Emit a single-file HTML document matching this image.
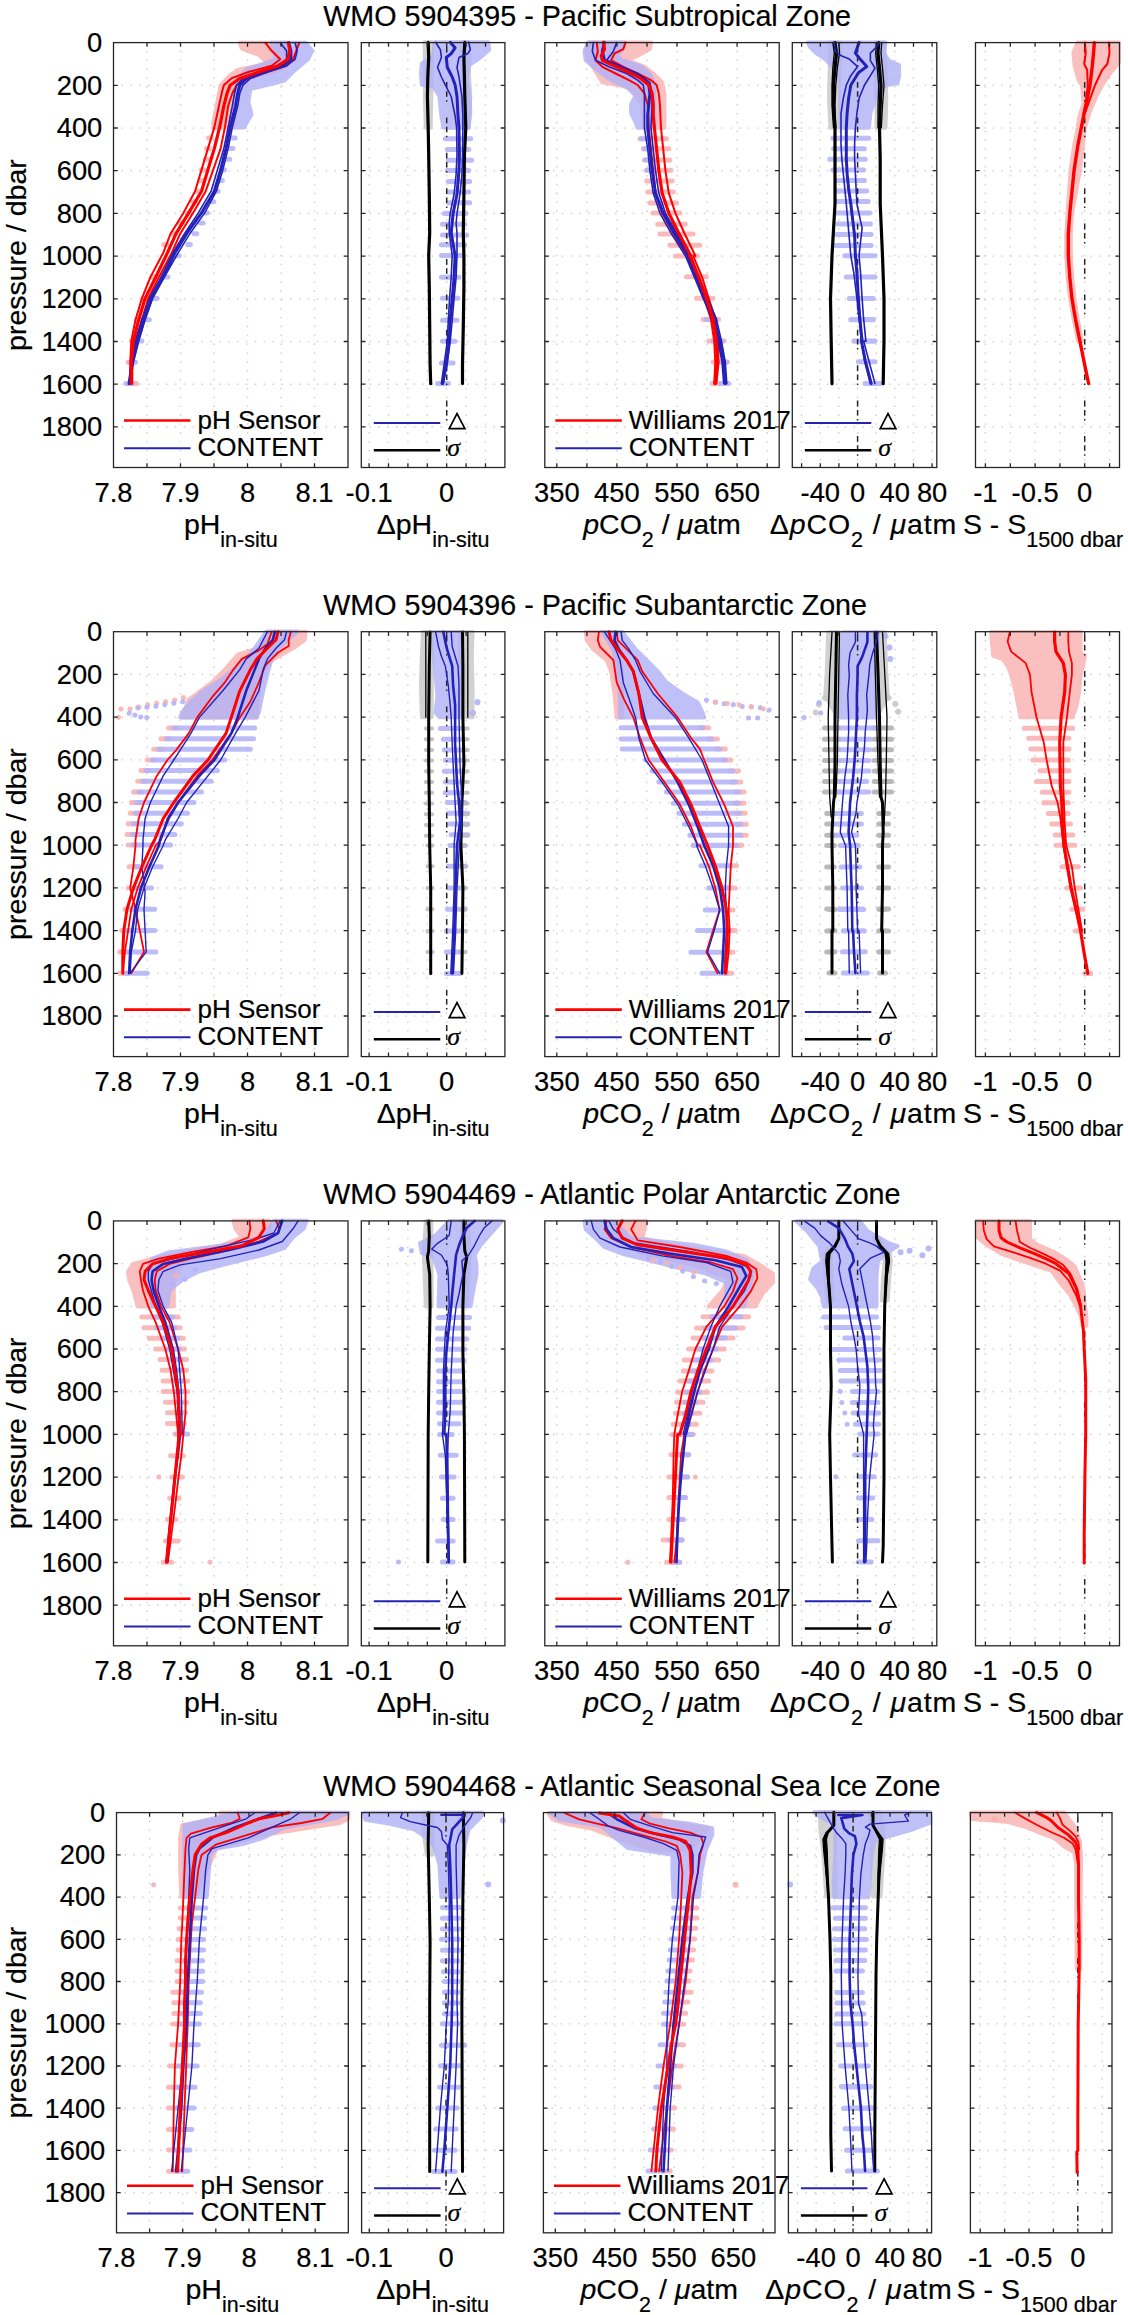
<!DOCTYPE html>
<html><head><meta charset="utf-8"><style>
html,body{margin:0;padding:0;background:#fff;}
svg{display:block;}
text{font-family:"Liberation Sans", sans-serif;fill:#000;stroke:#000;stroke-width:0.2px;}
</style></head><body>
<svg width="1128" height="2315" viewBox="0 0 1128 2315">
<rect width="1128" height="2315" fill="#fff"/>
<text x="323.3" y="25.9" font-size="28.7">WMO 5904395 - Pacific Subtropical Zone</text>
<path d="M147 42.6V467.5M180.5 42.6V467.5M214 42.6V467.5M247.5 42.6V467.5M281 42.6V467.5M314.5 42.6V467.5M113.5 85.3H348M113.5 128H348M113.5 170.7H348M113.5 213.4H348M113.5 256.1H348M113.5 298.8H348M113.5 341.5H348M113.5 384.2H348M113.5 426.9H348" stroke="#d2d2d2" stroke-width="1.7" stroke-linecap="round" stroke-dasharray="0 8.87" fill="none"/>
<polygon points="239.8,42.7 241.9,48.6 258.9,55.0 268.5,63.5 237.7,69.9 229.1,76.3 220.6,85.2 217.4,101.8 213.2,123.1 214.3,127.4 233.4,127.4 235.5,93.3 241.9,82.7 258.9,75.2 280.2,69.9 286.6,59.3 288.7,50.8 286.6,42.7" fill="#fab1b1" stroke="#fab1b1" stroke-width="4" stroke-linejoin="round" opacity="0.82"/>
<path d="M213.8 127.4H216.8M208.5 138.0H211.5M206.4 148.6H209.4M205.3 159.3H208.3M201.1 169.9H204.0M200.0 180.6H203.0M196.8 191.2H199.8M192.6 201.8H195.5M187.2 212.9H190.2M179.8 223.1H182.8M172.3 233.7H175.3M163.8 244.4H166.8M151.5 277.1H156.8M143.0 298.4H148.3M136.6 319.7H141.9M131.3 341.0H136.6M128.1 362.3H133.4M128.1 383.5H136.6" stroke="#fab1b1" stroke-width="5" stroke-linecap="round" fill="none" opacity="0.88"/>
<polygon points="271.7,42.7 276.0,59.3 246.2,69.9 237.7,80.6 235.5,93.3 234.5,127.4 244.0,127.4 251.5,114.6 248.3,101.8 250.4,89.1 276.0,82.7 284.5,80.6 295.1,69.9 307.9,59.3 312.1,50.8 305.7,42.7" fill="#b3b3f7" stroke="#b3b3f7" stroke-width="4" stroke-linejoin="round" opacity="0.82"/>
<path d="M232.3 138.0H235.1M230.2 148.6H233.0M227.0 159.3H229.8M221.7 169.9H224.5M219.6 180.6H222.3M215.3 191.2H218.1M211.1 201.8H213.8M204.7 212.9H207.4M200.4 223.1H203.2M194.0 233.7H196.8M187.7 244.4H190.4M173.8 255.7H179.1M162.1 277.1H167.9M151.5 298.4H157.2M144.0 319.7H149.4M137.7 341.0H141.9M130.2 362.3H135.5M126.0 383.5H132.3" stroke="#b3b3f7" stroke-width="5" stroke-linecap="round" fill="none" opacity="0.88"/>
<polyline points="265.3,42.7 271.7,50.8 280.2,59.3 271.7,65.7 248.3,72.0 231.3,78.4 223.8,85.2 221.7,93.3 214.3,127.4 207.9,148.6 201.5,169.9 195.1,191.2 183.4,212.9 170.6,233.7 163.2,252.9 150.4,277.1 141.9,298.4 135.5,319.7 131.3,341.0 130.2,362.3 130.2,383.5" fill="none" stroke="#ff0000" stroke-width="2" stroke-linejoin="round" stroke-linecap="round"/>
<polyline points="299.4,42.7 296.2,50.8 293.0,59.3 286.6,65.7 267.4,72.0 248.3,78.4 236.6,85.2 232.3,93.3 228.1,106.1 224.9,127.4 220.6,148.6 213.2,169.9 205.7,191.2 193.0,212.9 180.2,233.7 171.7,252.9 158.9,277.1 148.3,298.4 141.9,319.7 135.5,341.0 132.3,362.3 132.3,383.5" fill="none" stroke="#ff0000" stroke-width="2" stroke-linejoin="round" stroke-linecap="round"/>
<polyline points="280.2,42.7 286.6,50.8 286.6,59.3 278.1,65.7 258.9,72.0 243.0,78.4 236.6,85.2 234.5,93.3 232.3,106.1 228.1,127.4 223.8,148.6 217.4,169.9 211.1,191.2 198.3,212.9 184.5,233.7 172.8,252.9 161.1,277.1 149.4,298.4 141.9,319.7 135.5,341.0 131.3,362.3 129.1,383.5" fill="none" stroke="#2222b8" stroke-width="1.6" stroke-linejoin="round" stroke-linecap="round"/>
<polyline points="295.1,42.7 297.2,50.8 295.1,59.3 286.6,65.7 267.4,72.0 250.4,78.4 243.0,85.2 239.8,93.3 237.7,106.1 232.3,127.4 228.1,148.6 222.8,169.9 216.4,191.2 204.7,212.9 189.8,233.7 178.1,252.9 164.3,277.1 152.6,298.4 145.1,319.7 138.7,341.0 133.4,362.3 130.2,383.5" fill="none" stroke="#2222b8" stroke-width="1.6" stroke-linejoin="round" stroke-linecap="round"/>
<polyline points="288.7,42.7 290.9,50.8 290.9,59.3 282.3,65.7 263.2,72.0 246.2,78.4 239.8,85.2 237.7,93.3 235.5,106.1 230.2,127.4 226.0,148.6 220.6,169.9 214.3,191.2 201.5,212.9 186.6,233.7 174.9,252.9 163.2,277.1 151.5,298.4 144.0,319.7 137.7,341.0 132.3,362.3 129.1,383.5" fill="none" stroke="#2222b8" stroke-width="3" stroke-linejoin="round" stroke-linecap="round"/>
<polyline points="288.3,42.7 289.8,50.8 287.7,59.3 278.1,65.7 258.9,72.0 239.8,78.4 230.2,85.2 227.0,93.3 223.8,106.1 219.6,127.4 214.3,148.6 207.9,169.9 201.5,191.2 188.7,212.9 176.0,233.7 167.4,252.9 155.7,277.1 145.1,298.4 138.7,319.7 133.4,341.0 131.3,362.3 131.3,383.5" fill="none" stroke="#ff0000" stroke-width="3.2" stroke-linejoin="round" stroke-linecap="round"/>
<path d="M147 42.6v4.2M147 467.5v-4.2M180.5 42.6v4.2M180.5 467.5v-4.2M214 42.6v4.2M214 467.5v-4.2M247.5 42.6v4.2M247.5 467.5v-4.2M281 42.6v4.2M281 467.5v-4.2M314.5 42.6v4.2M314.5 467.5v-4.2M113.5 85.3h4.2M348 85.3h-4.2M113.5 128h4.2M348 128h-4.2M113.5 170.7h4.2M348 170.7h-4.2M113.5 213.4h4.2M348 213.4h-4.2M113.5 256.1h4.2M348 256.1h-4.2M113.5 298.8h4.2M348 298.8h-4.2M113.5 341.5h4.2M348 341.5h-4.2M113.5 384.2h4.2M348 384.2h-4.2M113.5 426.9h4.2M348 426.9h-4.2" stroke="#262626" stroke-width="1.3" fill="none"/>
<rect x="113.5" y="42.6" width="234.5" height="424.9" stroke="#262626" stroke-width="1.3" fill="none"/>
<text transform="translate(113.5 502.1) scale(0.97 1)" font-size="28.2" text-anchor="middle">7.8</text>
<text transform="translate(180.5 502.1) scale(0.97 1)" font-size="28.2" text-anchor="middle">7.9</text>
<text transform="translate(247.5 502.1) scale(0.97 1)" font-size="28.2" text-anchor="middle">8</text>
<text transform="translate(314.5 502.1) scale(0.97 1)" font-size="28.2" text-anchor="middle">8.1</text>
<path d="M369.1 42.6V467.5M388.5 42.6V467.5M407.9 42.6V467.5M427.3 42.6V467.5M446.7 42.6V467.5M466.1 42.6V467.5M485.5 42.6V467.5M361.3 85.3H504.9M361.3 128H504.9M361.3 170.7H504.9M361.3 213.4H504.9M361.3 256.1H504.9M361.3 298.8H504.9M361.3 341.5H504.9M361.3 384.2H504.9M361.3 426.9H504.9" stroke="#d2d2d2" stroke-width="1.7" stroke-linecap="round" stroke-dasharray="0 8.87" fill="none"/>
<polygon points="424.5,42.3 425.4,77.0 424.8,96.5 425.8,127.7 430.7,127.7 431.3,96.5 431.7,77.0 432.1,42.3" fill="#c8c8c8" stroke="#c8c8c8" stroke-width="4" stroke-linejoin="round" opacity="0.82"/>
<polygon points="461.3,42.3 461.9,77.0 462.5,96.5 462.9,127.7 468.7,127.7 470.3,96.5 469.1,77.0 469.1,42.3" fill="#c8c8c8" stroke="#c8c8c8" stroke-width="4" stroke-linejoin="round" opacity="0.82"/>
<polygon points="434.6,42.3 433.6,55.6 426.8,60.4 421.9,63.4 420.9,73.1 421.9,84.8 433.6,86.8 439.5,96.5 441.4,116.0 443.4,127.7 468.7,127.7 470.3,112.1 469.7,96.5 466.8,77.0 468.7,65.3 480.4,57.5 489.2,49.7 488.2,42.3" fill="#b3b3f7" stroke="#b3b3f7" stroke-width="4" stroke-linejoin="round" opacity="0.82"/>
<path d="M445.3 138.8H470.7M447.3 149.6H468.7M448.3 160.3H471.7M447.3 170.6H468.7M448.3 181.4H469.7M448.3 192.1H468.7M448.3 202.8H469.7M444.3 213.5H465.8M442.4 224.3H464.8M442.4 235.0H466.8M441.4 244.7H464.8M441.4 255.4H460.9M441.4 277.3H459.0M442.4 298.3H458.0M442.4 320.2H457.0M442.4 341.2H455.1M441.4 363.1H453.1M437.5 383.6H448.3" stroke="#b3b3f7" stroke-width="5" stroke-linecap="round" fill="none" opacity="0.88"/>
<path d="M446.7 42.6V467.5" stroke="#262626" stroke-width="1.5" stroke-dasharray="5.8 3.5 5.5 3.5 1.5 15.6" stroke-dashoffset="-4" fill="none"/>
<polyline points="428.2,42.3 428.7,57.5 427.8,77.0 427.4,96.5 428.2,127.7 428.7,155.0 429.3,194.0 429.7,233.0 428.7,255.4 429.3,287.0 429.7,326.0 430.1,365.0 430.7,383.6" fill="none" stroke="#000000" stroke-width="3.2" stroke-linejoin="round" stroke-linecap="round"/>
<polyline points="464.8,42.3 463.9,57.5 464.4,77.0 464.8,96.5 465.8,127.7 464.4,155.0 463.9,194.0 463.3,233.0 463.9,255.4 463.9,287.0 463.3,326.0 462.5,365.0 462.5,383.6" fill="none" stroke="#000000" stroke-width="3.2" stroke-linejoin="round" stroke-linecap="round"/>
<polyline points="435.6,42.3 440.4,49.7 441.4,57.5 437.5,67.3 441.4,77.0 445.3,84.8 451.2,96.5 455.1,116.0 456.6,127.7 457.0,155.0 456.1,174.5 454.1,194.0 450.2,213.5 449.2,223.3 449.2,233.0 452.2,255.4 451.2,277.3 449.6,298.3 448.3,320.2 447.3,341.2 444.3,363.1 441.4,383.6" fill="none" stroke="#2222b8" stroke-width="1.6" stroke-linejoin="round" stroke-linecap="round"/>
<polyline points="468.7,42.3 470.3,49.7 467.8,53.6 459.0,57.5 457.0,67.3 459.0,77.0 461.9,96.5 462.9,116.0 462.9,127.7 462.5,155.0 461.9,174.5 460.0,194.0 457.0,213.5 456.1,223.3 457.0,233.0 457.0,255.4 456.1,277.3 454.1,298.3 452.2,320.2 450.2,341.2 447.3,363.1 443.4,383.6" fill="none" stroke="#2222b8" stroke-width="1.6" stroke-linejoin="round" stroke-linecap="round"/>
<polyline points="450.2,42.3 455.1,47.8 451.2,53.6 446.3,57.5 447.3,67.3 452.2,77.0 455.1,84.8 457.0,96.5 458.0,116.0 459.0,127.7 459.4,155.0 459.0,170.2 457.0,194.0 453.1,213.5 451.2,233.0 455.1,255.4 454.1,277.3 452.2,298.3 450.2,320.2 449.2,341.2 446.3,363.1 442.4,383.6" fill="none" stroke="#2222b8" stroke-width="3" stroke-linejoin="round" stroke-linecap="round"/>
<path d="M369.1 42.6v4.2M369.1 467.5v-4.2M388.5 42.6v4.2M388.5 467.5v-4.2M407.9 42.6v4.2M407.9 467.5v-4.2M427.3 42.6v4.2M427.3 467.5v-4.2M446.7 42.6v4.2M446.7 467.5v-4.2M466.1 42.6v4.2M466.1 467.5v-4.2M485.5 42.6v4.2M485.5 467.5v-4.2M361.3 85.3h4.2M504.9 85.3h-4.2M361.3 128h4.2M504.9 128h-4.2M361.3 170.7h4.2M504.9 170.7h-4.2M361.3 213.4h4.2M504.9 213.4h-4.2M361.3 256.1h4.2M504.9 256.1h-4.2M361.3 298.8h4.2M504.9 298.8h-4.2M361.3 341.5h4.2M504.9 341.5h-4.2M361.3 384.2h4.2M504.9 384.2h-4.2M361.3 426.9h4.2M504.9 426.9h-4.2" stroke="#262626" stroke-width="1.3" fill="none"/>
<rect x="361.3" y="42.6" width="143.6" height="424.9" stroke="#262626" stroke-width="1.3" fill="none"/>
<text transform="translate(369.1 502.1) scale(0.97 1)" font-size="28.2" text-anchor="middle">-0.1</text>
<text transform="translate(446.7 502.1) scale(0.97 1)" font-size="28.2" text-anchor="middle">0</text>
<path d="M556.8 42.6V467.5M586.9 42.6V467.5M616.9 42.6V467.5M647 42.6V467.5M677 42.6V467.5M707.1 42.6V467.5M737.1 42.6V467.5M767.2 42.6V467.5M544.8 85.3H779.2M544.8 128H779.2M544.8 170.7H779.2M544.8 213.4H779.2M544.8 256.1H779.2M544.8 298.8H779.2M544.8 341.5H779.2M544.8 384.2H779.2M544.8 426.9H779.2" stroke="#d2d2d2" stroke-width="1.7" stroke-linecap="round" stroke-dasharray="0 8.87" fill="none"/>
<polygon points="589.0,42.4 585.7,51.3 589.0,60.2 595.6,71.2 602.3,82.3 622.2,85.7 631.1,89.0 642.2,104.5 644.4,127.8 664.3,127.8 664.3,104.5 664.3,93.4 662.1,82.3 653.2,73.5 644.4,66.8 626.7,60.2 637.7,55.7 649.9,49.1 651.0,42.4" fill="#fab1b1" stroke="#fab1b1" stroke-width="4" stroke-linejoin="round" opacity="0.82"/>
<path d="M640.0 138.8H666.5M643.3 148.8H668.8M644.4 159.9H669.9M646.6 170.3H671.0M646.6 181.0H672.1M647.7 192.0H673.2M649.9 203.1H676.5M653.2 213.1H679.8M657.7 224.2H685.4M659.9 234.1H693.1M669.9 245.2H699.8M675.4 255.9H697.6M686.5 276.8H706.4M696.5 298.3H713.1M703.1 319.4H718.6M708.7 341.1H724.2M713.1 362.1H727.5M712.0 383.6H718.6" stroke="#fab1b1" stroke-width="5" stroke-linecap="round" fill="none" opacity="0.88"/>
<polygon points="587.9,42.4 584.5,51.3 585.7,60.2 593.4,66.8 611.1,80.1 626.7,86.8 635.5,95.6 631.1,104.5 631.1,113.4 635.5,122.2 637.7,127.8 654.4,127.8 654.4,95.6 653.2,82.3 651.0,75.7 642.2,66.8 622.2,60.2 615.6,55.7 621.1,51.3 623.3,42.4" fill="#b3b3f7" stroke="#b3b3f7" stroke-width="4" stroke-linejoin="round" opacity="0.82"/>
<path d="M641.1 138.8H648.8M644.4 148.8H651.0M645.5 159.9H652.1M646.6 170.3H653.2M706.4 319.4H715.3M713.1 341.1H722.0M718.6 362.1H726.4M720.8 383.6H728.6" stroke="#b3b3f7" stroke-width="5" stroke-linecap="round" fill="none" opacity="0.88"/>
<polyline points="596.7,42.4 597.8,51.3 595.6,60.2 602.3,66.8 615.6,73.5 628.9,80.1 637.7,85.0 644.4,93.4 647.7,104.5 648.8,127.8 651.0,148.8 653.2,170.3 655.5,193.1 662.1,213.1 673.2,233.0 686.5,255.9 686.5,255.8 695.4,276.8 704.2,298.3 710.9,318.9 714.2,341.1 715.3,362.1 714.2,383.6" fill="none" stroke="#ff0000" stroke-width="2" stroke-linejoin="round" stroke-linecap="round"/>
<polyline points="625.5,42.4 623.3,49.1 614.5,53.5 611.1,60.2 623.3,66.8 637.7,73.5 651.0,80.1 656.6,85.0 658.8,93.4 659.9,104.5 661.0,127.8 663.2,148.8 665.4,170.3 668.8,193.1 675.4,213.1 684.3,233.0 695.4,255.9 693.1,255.8 702.0,276.8 708.7,298.3 715.3,318.9 718.0,341.1 718.6,362.1 716.4,383.6" fill="none" stroke="#ff0000" stroke-width="2" stroke-linejoin="round" stroke-linecap="round"/>
<polyline points="593.4,42.4 592.3,51.3 595.6,60.2 608.9,66.8 626.7,73.5 637.7,80.1 643.3,85.0 644.4,93.4 644.4,104.5 644.4,127.8 647.7,148.8 649.9,170.3 653.2,193.1 659.9,213.1 671.0,233.0 685.4,255.9 685.4,255.8 694.2,276.8 703.1,298.3 712.0,318.9 718.0,341.1 722.0,362.1 723.7,383.6" fill="none" stroke="#2222b8" stroke-width="1.6" stroke-linejoin="round" stroke-linecap="round"/>
<polyline points="616.7,42.4 613.4,51.3 606.7,60.2 622.2,66.8 637.7,73.5 649.9,82.3 652.1,93.4 652.1,104.5 651.0,127.8 653.2,148.8 655.5,170.3 658.8,193.1 665.4,213.1 676.5,233.0 690.9,255.9 690.9,255.8 698.7,276.8 707.5,298.3 716.4,318.9 721.5,341.1 725.3,362.1 726.8,383.6" fill="none" stroke="#2222b8" stroke-width="1.6" stroke-linejoin="round" stroke-linecap="round"/>
<polyline points="604.5,42.4 602.3,51.3 604.5,60.2 617.8,66.8 633.3,73.5 644.4,80.1 648.8,85.0 649.9,93.4 648.8,104.5 647.7,115.6 647.7,127.8 649.9,148.8 652.1,170.3 655.5,193.1 663.2,213.1 674.3,233.0 688.7,255.9 687.6,255.8 696.5,276.8 705.3,298.3 714.2,318.9 719.7,341.1 723.7,362.1 725.3,383.6" fill="none" stroke="#2222b8" stroke-width="3" stroke-linejoin="round" stroke-linecap="round"/>
<polyline points="603.4,42.4 604.5,49.1 601.2,55.7 602.3,60.2 611.1,64.6 626.7,71.2 640.0,77.9 648.8,85.0 652.1,93.4 653.2,104.5 653.2,115.6 654.4,127.8 656.6,148.8 658.8,170.3 662.1,193.1 668.8,213.1 678.7,233.0 690.9,255.9 689.8,255.8 698.7,276.8 706.4,298.3 713.1,318.9 716.4,341.1 717.1,362.1 715.3,383.6" fill="none" stroke="#ff0000" stroke-width="3.2" stroke-linejoin="round" stroke-linecap="round"/>
<path d="M556.8 42.6v4.2M556.8 467.5v-4.2M586.9 42.6v4.2M586.9 467.5v-4.2M616.9 42.6v4.2M616.9 467.5v-4.2M647 42.6v4.2M647 467.5v-4.2M677 42.6v4.2M677 467.5v-4.2M707.1 42.6v4.2M707.1 467.5v-4.2M737.1 42.6v4.2M737.1 467.5v-4.2M767.2 42.6v4.2M767.2 467.5v-4.2M544.8 85.3h4.2M779.2 85.3h-4.2M544.8 128h4.2M779.2 128h-4.2M544.8 170.7h4.2M779.2 170.7h-4.2M544.8 213.4h4.2M779.2 213.4h-4.2M544.8 256.1h4.2M779.2 256.1h-4.2M544.8 298.8h4.2M779.2 298.8h-4.2M544.8 341.5h4.2M779.2 341.5h-4.2M544.8 384.2h4.2M779.2 384.2h-4.2M544.8 426.9h4.2M779.2 426.9h-4.2" stroke="#262626" stroke-width="1.3" fill="none"/>
<rect x="544.8" y="42.6" width="234.4" height="424.9" stroke="#262626" stroke-width="1.3" fill="none"/>
<text transform="translate(556.8 502.1) scale(0.97 1)" font-size="28.2" text-anchor="middle">350</text>
<text transform="translate(616.9 502.1) scale(0.97 1)" font-size="28.2" text-anchor="middle">450</text>
<text transform="translate(677 502.1) scale(0.97 1)" font-size="28.2" text-anchor="middle">550</text>
<text transform="translate(737.1 502.1) scale(0.97 1)" font-size="28.2" text-anchor="middle">650</text>
<path d="M801.6 42.6V467.5M820.3 42.6V467.5M838.9 42.6V467.5M857.6 42.6V467.5M876.2 42.6V467.5M894.8 42.6V467.5M913.5 42.6V467.5M932.1 42.6V467.5M792.3 85.3H936.8M792.3 128H936.8M792.3 170.7H936.8M792.3 213.4H936.8M792.3 256.1H936.8M792.3 298.8H936.8M792.3 341.5H936.8M792.3 384.2H936.8M792.3 426.9H936.8" stroke="#d2d2d2" stroke-width="1.7" stroke-linecap="round" stroke-dasharray="0 8.87" fill="none"/>
<polygon points="829.7,42.5 829.7,68.1 829.0,98.3 830.5,127.8 838.0,127.8 838.8,98.3 839.5,68.1 840.3,42.5" fill="#c8c8c8" stroke="#c8c8c8" stroke-width="4" stroke-linejoin="round" opacity="0.82"/>
<polygon points="875.7,42.5 875.0,68.1 876.5,98.3 876.5,127.8 885.5,127.8 886.3,98.3 885.5,68.1 884.0,42.5" fill="#c8c8c8" stroke="#c8c8c8" stroke-width="4" stroke-linejoin="round" opacity="0.82"/>
<polygon points="807.9,42.5 810.1,47.0 816.2,53.1 825.2,59.1 834.3,68.1 840.3,83.2 840.3,127.8 868.9,127.8 870.4,113.4 875.0,98.3 885.5,85.2 897.6,83.2 899.1,75.7 899.1,65.1 888.5,60.6 884.0,53.1 885.5,42.5" fill="#b3b3f7" stroke="#b3b3f7" stroke-width="4" stroke-linejoin="round" opacity="0.82"/>
<path d="M832.8 138.2H868.9M833.5 148.8H864.4M829.7 159.3H865.2M832.8 169.9H863.6M837.3 180.4H864.4M837.3 191.0H866.7M837.3 201.5H868.2M837.3 213.1H869.7M838.0 223.9H870.4M836.5 234.6H871.2M835.0 245.5H871.2M844.8 255.7H875.0M846.3 277.1H875.0M849.3 298.5H873.4M850.8 319.8H873.4M853.9 341.2H875.0M850.8 319.6H873.4M853.9 341.0H875.0M858.4 361.8H875.0M865.2 383.6H880.2" stroke="#b3b3f7" stroke-width="5" stroke-linecap="round" fill="none" opacity="0.88"/>
<path d="M857.6 42.6V467.5" stroke="#262626" stroke-width="1.5" stroke-dasharray="5.8 3.5 5.5 3.5 1.5 15.6" stroke-dashoffset="-4" fill="none"/>
<polyline points="832.8,42.5 834.3,53.1 832.8,68.1 832.0,85.2 832.0,105.8 833.5,127.8" fill="none" stroke="#000000" stroke-width="1.3" stroke-linejoin="round" stroke-linecap="round"/>
<polyline points="838.8,42.5 839.5,53.1 837.3,68.1 835.8,85.2 835.0,105.8 835.8,127.8" fill="none" stroke="#000000" stroke-width="1.3" stroke-linejoin="round" stroke-linecap="round"/>
<polyline points="876.5,42.5 875.7,53.1 877.2,68.1 878.7,85.2 878.0,105.8 878.0,127.8" fill="none" stroke="#000000" stroke-width="1.3" stroke-linejoin="round" stroke-linecap="round"/>
<polyline points="881.7,42.5 881.0,53.1 882.5,68.1 884.0,85.2 882.5,105.8 881.3,127.8" fill="none" stroke="#000000" stroke-width="1.3" stroke-linejoin="round" stroke-linecap="round"/>
<polyline points="835.0,42.5 836.5,53.1 835.0,68.1 833.5,85.2 833.5,105.8 835.0,127.8 835.0,158.6 835.0,203.8 832.0,255.7 830.5,298.5 831.2,341.2 831.2,341.0 832.0,383.6" fill="none" stroke="#000000" stroke-width="3.2" stroke-linejoin="round" stroke-linecap="round"/>
<polyline points="878.7,42.5 878.0,53.1 879.5,68.1 881.0,85.2 880.2,105.8 879.5,127.8 880.2,158.6 880.2,203.8 882.5,255.7 884.0,298.5 884.0,341.2 884.0,341.0 883.2,383.6" fill="none" stroke="#000000" stroke-width="3.2" stroke-linejoin="round" stroke-linecap="round"/>
<polyline points="834.3,42.5 835.8,51.6 841.8,56.1 849.3,59.1 857.6,66.6 850.8,75.7 846.3,85.2 843.3,98.3 841.0,113.4 841.0,127.8 841.0,143.5 841.8,158.6 843.3,173.6 844.8,188.7 846.3,203.8 850.8,255.7 853.9,273.4 856.9,298.5 859.1,318.6 861.4,341.2 861.4,341.0 864.4,360.3 870.4,383.6" fill="none" stroke="#2222b8" stroke-width="1.6" stroke-linejoin="round" stroke-linecap="round"/>
<polyline points="879.5,42.5 876.5,47.0 871.9,51.6 870.4,53.1 870.4,60.6 875.0,68.1 870.4,75.7 864.4,85.2 859.1,98.3 856.9,113.4 855.4,127.8 854.6,143.5 854.6,158.6 855.4,173.6 856.1,188.7 856.9,203.8 862.1,228.1 859.9,247.7 859.1,255.7 860.6,273.4 862.1,298.5 863.6,318.6 865.9,341.2 863.6,341.0 875.0,383.6" fill="none" stroke="#2222b8" stroke-width="1.6" stroke-linejoin="round" stroke-linecap="round"/>
<polyline points="859.1,42.5 855.4,53.1 861.4,60.6 866.7,66.6 858.4,72.7 850.8,85.2 848.6,98.3 847.1,113.4 846.3,127.8 846.3,143.5 846.3,158.6 847.1,173.6 848.6,188.7 850.8,203.8 854.6,235.7 855.4,255.7 856.9,273.4 858.4,298.5 859.9,318.6 862.1,341.2 861.4,341.0 865.2,360.3 871.2,383.6" fill="none" stroke="#2222b8" stroke-width="3" stroke-linejoin="round" stroke-linecap="round"/>
<path d="M801.6 42.6v4.2M801.6 467.5v-4.2M820.3 42.6v4.2M820.3 467.5v-4.2M838.9 42.6v4.2M838.9 467.5v-4.2M857.6 42.6v4.2M857.6 467.5v-4.2M876.2 42.6v4.2M876.2 467.5v-4.2M894.8 42.6v4.2M894.8 467.5v-4.2M913.5 42.6v4.2M913.5 467.5v-4.2M932.1 42.6v4.2M932.1 467.5v-4.2M792.3 85.3h4.2M936.8 85.3h-4.2M792.3 128h4.2M936.8 128h-4.2M792.3 170.7h4.2M936.8 170.7h-4.2M792.3 213.4h4.2M936.8 213.4h-4.2M792.3 256.1h4.2M936.8 256.1h-4.2M792.3 298.8h4.2M936.8 298.8h-4.2M792.3 341.5h4.2M936.8 341.5h-4.2M792.3 384.2h4.2M936.8 384.2h-4.2M792.3 426.9h4.2M936.8 426.9h-4.2" stroke="#262626" stroke-width="1.3" fill="none"/>
<rect x="792.3" y="42.6" width="144.5" height="424.9" stroke="#262626" stroke-width="1.3" fill="none"/>
<text transform="translate(820.3 502.1) scale(0.97 1)" font-size="28.2" text-anchor="middle">-40</text>
<text transform="translate(857.6 502.1) scale(0.97 1)" font-size="28.2" text-anchor="middle">0</text>
<text transform="translate(894.8 502.1) scale(0.97 1)" font-size="28.2" text-anchor="middle">40</text>
<text transform="translate(932.1 502.1) scale(0.97 1)" font-size="28.2" text-anchor="middle">80</text>
<path d="M985.4 42.6V467.5M1010.3 42.6V467.5M1035.1 42.6V467.5M1059.9 42.6V467.5M1084.7 42.6V467.5M1109.6 42.6V467.5M975.5 85.3H1119.5M975.5 128H1119.5M975.5 170.7H1119.5M975.5 213.4H1119.5M975.5 256.1H1119.5M975.5 298.8H1119.5M975.5 341.5H1119.5M975.5 384.2H1119.5M975.5 426.9H1119.5" stroke="#d2d2d2" stroke-width="1.7" stroke-linecap="round" stroke-dasharray="0 8.87" fill="none"/>
<polygon points="1077.7,42.6 1073.4,52.5 1074.8,66.9 1079.2,81.4 1082.1,85.0 1083.5,103.0 1079.2,117.5 1077.7,127.6 1074.1,146.4 1070.5,170.2 1067.6,213.1 1066.2,234.0 1066.2,255.7 1067.6,277.4 1070.1,298.3 1073.7,319.3 1078.2,341.2 1081.8,341.2 1077.7,319.3 1074.4,298.3 1072.2,277.4 1070.8,255.7 1070.8,234.0 1072.2,213.1 1079.9,170.2 1082.8,146.4 1084.9,127.6 1089.3,113.1 1096.5,95.8 1102.3,85.0 1109.5,74.1 1118.9,62.6 1118.9,42.6" fill="#fab1b1" stroke="#fab1b1" stroke-width="4" stroke-linejoin="round" opacity="0.82"/>
<path d="M1084.7 42.6V467.5" stroke="#262626" stroke-width="1.5" stroke-dasharray="5.8 3.5 5.5 3.5 1.5 15.6" stroke-dashoffset="-4" fill="none"/>
<polyline points="1084.9,42.6 1085.7,52.5 1084.2,64.0 1087.1,69.8 1087.8,85.0 1085.7,103.0 1083.5,113.1" fill="none" stroke="#ff0000" stroke-width="2" stroke-linejoin="round" stroke-linecap="round"/>
<polyline points="1108.8,42.6 1109.5,52.5 1108.8,56.8 1107.3,64.0 1102.3,69.8 1095.1,85.0 1088.6,103.0 1084.9,113.1" fill="none" stroke="#ff0000" stroke-width="2" stroke-linejoin="round" stroke-linecap="round"/>
<polyline points="1094.3,42.6 1093.6,52.5 1092.2,66.9 1090.0,85.0 1086.4,103.0 1084.2,113.1 1081.3,127.6 1077.7,146.4 1074.1,170.2 1069.8,213.1 1068.3,234.0 1068.3,255.7 1069.8,277.4 1071.9,298.3 1075.5,319.3 1079.9,341.2 1084.2,362.5 1088.6,383.5" fill="none" stroke="#ff0000" stroke-width="3.4" stroke-linejoin="round" stroke-linecap="round"/>
<path d="M985.4 42.6v4.2M985.4 467.5v-4.2M1010.3 42.6v4.2M1010.3 467.5v-4.2M1035.1 42.6v4.2M1035.1 467.5v-4.2M1059.9 42.6v4.2M1059.9 467.5v-4.2M1084.7 42.6v4.2M1084.7 467.5v-4.2M1109.6 42.6v4.2M1109.6 467.5v-4.2M975.5 85.3h4.2M1119.5 85.3h-4.2M975.5 128h4.2M1119.5 128h-4.2M975.5 170.7h4.2M1119.5 170.7h-4.2M975.5 213.4h4.2M1119.5 213.4h-4.2M975.5 256.1h4.2M1119.5 256.1h-4.2M975.5 298.8h4.2M1119.5 298.8h-4.2M975.5 341.5h4.2M1119.5 341.5h-4.2M975.5 384.2h4.2M1119.5 384.2h-4.2M975.5 426.9h4.2M1119.5 426.9h-4.2" stroke="#262626" stroke-width="1.3" fill="none"/>
<rect x="975.5" y="42.6" width="144" height="424.9" stroke="#262626" stroke-width="1.3" fill="none"/>
<text transform="translate(985.4 502.1) scale(0.97 1)" font-size="28.2" text-anchor="middle">-1</text>
<text transform="translate(1035.1 502.1) scale(0.97 1)" font-size="28.2" text-anchor="middle">-0.5</text>
<text transform="translate(1084.7 502.1) scale(0.97 1)" font-size="28.2" text-anchor="middle">0</text>
<text transform="translate(102.3 51.9) scale(0.97 1)" font-size="28.2" text-anchor="end">0</text>
<text transform="translate(102.3 94.6) scale(0.97 1)" font-size="28.2" text-anchor="end">200</text>
<text transform="translate(102.3 137.3) scale(0.97 1)" font-size="28.2" text-anchor="end">400</text>
<text transform="translate(102.3 180) scale(0.97 1)" font-size="28.2" text-anchor="end">600</text>
<text transform="translate(102.3 222.7) scale(0.97 1)" font-size="28.2" text-anchor="end">800</text>
<text transform="translate(102.3 265.4) scale(0.97 1)" font-size="28.2" text-anchor="end">1000</text>
<text transform="translate(102.3 308.1) scale(0.97 1)" font-size="28.2" text-anchor="end">1200</text>
<text transform="translate(102.3 350.8) scale(0.97 1)" font-size="28.2" text-anchor="end">1400</text>
<text transform="translate(102.3 393.5) scale(0.97 1)" font-size="28.2" text-anchor="end">1600</text>
<text transform="translate(102.3 436.2) scale(0.97 1)" font-size="28.2" text-anchor="end">1800</text>
<text transform="translate(25.5 255.1) rotate(-90)" font-size="28.5" text-anchor="middle">pressure / dbar</text>
<text x="230.8" y="533.8" font-size="28.5" text-anchor="middle">pH<tspan font-size="21.5" dy="12.8">in-situ</tspan></text>
<text x="433.1" y="533.8" font-size="28.5" text-anchor="middle">ΔpH<tspan font-size="21.5" dy="12.8">in-situ</tspan></text>
<text x="662" y="533.8" font-size="28.5" text-anchor="middle"><tspan font-style="italic">p</tspan>CO<tspan font-size="21.5" dy="12.8">2</tspan><tspan dy="-13"> / </tspan><tspan font-style="italic">μ</tspan>atm</text>
<text x="863.5" y="533.8" font-size="28.5" letter-spacing="0.9" text-anchor="middle">Δ<tspan font-style="italic">p</tspan>CO<tspan font-size="21.5" dy="12.8">2</tspan><tspan dy="-13"> / </tspan><tspan font-style="italic">μ</tspan>atm</text>
<text x="1043" y="533.8" font-size="28.5" text-anchor="middle">S - S<tspan font-size="21.5" dy="12.8">1500 dbar</tspan></text>
<path d="M124 420.5h66.5" stroke="#ff0000" stroke-width="2.6"/>
<path d="M124 448.2h66.5" stroke="#2424b4" stroke-width="2"/>
<text x="197.5" y="428.5" font-size="26">pH Sensor</text>
<text x="197.5" y="456" font-size="26">CONTENT</text>
<path d="M555.3 420.5h66.5" stroke="#ff0000" stroke-width="2.6"/>
<path d="M555.3 448.2h66.5" stroke="#2424b4" stroke-width="2"/>
<text x="628.8" y="428.5" font-size="26">Williams 2017</text>
<text x="628.8" y="456" font-size="26">CONTENT</text>
<path d="M373.8 423h66.5" stroke="#2424b4" stroke-width="2"/>
<path d="M373.8 450.2h66.5" stroke="#000" stroke-width="2.6"/>
<path d="M449.2 428.6L457 413.6L464.9 428.6Z" fill="none" stroke="#000" stroke-width="1.7" stroke-linejoin="miter"/>
<text x="447.3" y="456" font-size="26" style="font-family:Liberation Serif,serif;font-style:italic">σ</text>
<path d="M804.8 423h66.5" stroke="#2424b4" stroke-width="2"/>
<path d="M804.8 450.2h66.5" stroke="#000" stroke-width="2.6"/>
<path d="M880.2 428.6L888 413.6L895.9 428.6Z" fill="none" stroke="#000" stroke-width="1.7" stroke-linejoin="miter"/>
<text x="878.3" y="456" font-size="26" style="font-family:Liberation Serif,serif;font-style:italic">σ</text>
<text x="323.3" y="615" font-size="28.7">WMO 5904396 - Pacific Subantarctic Zone</text>
<path d="M147 631.7V1056.6M180.5 631.7V1056.6M214 631.7V1056.6M247.5 631.7V1056.6M281 631.7V1056.6M314.5 631.7V1056.6M113.5 674.4H348M113.5 717.1H348M113.5 759.8H348M113.5 802.5H348M113.5 845.2H348M113.5 887.9H348M113.5 930.6H348M113.5 973.3H348M113.5 1016H348" stroke="#d2d2d2" stroke-width="1.7" stroke-linecap="round" stroke-dasharray="0 8.87" fill="none"/>
<polyline points="118.5,717.4 120.6,708.9 131.3,708.9 148.3,704.7 161.1,702.5 173.8,700.4 188.7,696.1" fill="none" stroke="#fab1b1" stroke-width="5" stroke-linecap="round" stroke-dasharray="0.1 9" opacity="0.9"/>
<polyline points="129.1,713.2 141.9,717.4 148.3,717.4" fill="none" stroke="#b3b3f7" stroke-width="5" stroke-linecap="round" stroke-dasharray="0.1 6" opacity="0.9"/>
<polyline points="137.7,707.9 152.6,706.8 165.3,704.7 178.1,702.5 184.5,701.5" fill="none" stroke="#b3b3f7" stroke-width="5" stroke-linecap="round" stroke-dasharray="0.1 9" opacity="0.9"/>
<polygon points="267.4,631.7 258.9,648.3 237.7,654.7 224.9,669.6 212.1,682.3 195.1,695.1 188.7,699.3 182.3,717.4 199.4,717.4 256.8,717.4 258.9,690.8 263.2,669.6 273.8,658.9 293.0,648.3 304.7,639.8 305.7,631.7" fill="#fab1b1" stroke="#fab1b1" stroke-width="4" stroke-linejoin="round" opacity="0.82"/>
<polygon points="266.4,631.7 254.7,648.3 246.2,658.9 233.4,669.6 220.6,680.2 203.6,690.8 190.9,701.5 182.3,712.1 180.2,717.4 256.8,717.4 258.9,712.1 263.2,690.8 268.5,669.6 271.7,658.9 278.1,648.3 297.2,631.7" fill="#b3b3f7" stroke="#b3b3f7" stroke-width="4" stroke-linejoin="round" opacity="0.82"/>
<path d="M168.5 728.1H177.0M161.1 738.7H169.6M153.6 749.3H162.1M147.2 760.0H155.7M140.9 770.6H149.4M137.7 781.3H146.2M133.4 791.9H141.9M131.3 802.5H139.8M130.2 813.2H138.7M128.1 823.8H136.6M127.0 834.4H135.5M128.1 845.1H136.6M129.1 866.8H137.7M128.1 888.1H135.5M124.9 909.3H133.4M121.7 930.6H129.1M119.6 951.9H127.0M119.6 973.2H127.0" stroke="#fab1b1" stroke-width="5" stroke-linecap="round" fill="none" opacity="0.88"/>
<path d="M173.8 728.1H254.7M166.4 738.7H253.6M158.9 749.3H250.4M152.6 760.0H224.9M146.2 770.6H217.4M143.0 781.3H211.1M138.7 791.9H201.5M136.6 802.5H194.0M135.5 813.2H187.7M133.4 823.8H181.3M132.3 834.4H174.9M133.4 845.1H170.6M135.5 866.8H161.1M133.4 888.1H151.5M131.3 909.3H154.7M128.1 930.6H154.7M127.0 951.9H155.7M126.0 973.2H147.2" stroke="#b3b3f7" stroke-width="5" stroke-linecap="round" fill="none" opacity="0.88"/>
<polyline points="271.7,631.7 267.4,644.0 258.9,650.4 241.9,658.9 233.4,669.6 224.9,682.3 212.1,697.2 197.2,717.4 188.7,733.4 176.0,750.4 167.4,760.0 156.8,775.9 144.0,802.5 138.7,818.5 135.5,839.8 135.5,845.5 133.4,866.8 130.2,888.1 135.5,909.3 139.8,930.6 144.0,951.9 131.3,973.2" fill="none" stroke="#ff0000" stroke-width="1.8" stroke-linejoin="round" stroke-linecap="round"/>
<polyline points="290.9,631.7 288.7,639.8 288.7,646.1 278.1,652.5 265.3,665.3 258.9,682.3 250.4,701.5 239.8,717.4 231.3,733.4 212.1,760.0 197.2,775.9 178.1,802.5 167.4,818.5 161.1,839.8 155.7,845.5 146.2,866.8 137.7,888.1 131.3,909.3 128.1,930.6 124.9,951.9 122.8,973.2" fill="none" stroke="#ff0000" stroke-width="1.8" stroke-linejoin="round" stroke-linecap="round"/>
<polyline points="267.4,631.7 258.9,648.3 246.2,658.9 239.8,669.6 222.8,690.8 199.4,717.4 190.9,733.4 173.8,760.0 163.2,775.9 150.4,802.5 145.1,818.5 143.0,839.8 143.0,845.5 141.9,866.8 145.1,892.3 144.0,909.3 145.1,930.6 146.2,951.9 130.2,973.2" fill="none" stroke="#2222b8" stroke-width="1.4" stroke-linejoin="round" stroke-linecap="round"/>
<polyline points="286.6,631.7 284.5,639.8 276.0,648.3 267.4,658.9 263.2,669.6 258.9,690.8 245.1,717.4 235.5,733.4 220.6,760.0 207.9,775.9 186.6,802.5 178.1,818.5 165.3,839.8 163.2,845.5 152.6,866.8 144.0,888.1 137.7,909.3 135.5,930.6 131.3,951.9 130.2,973.2" fill="none" stroke="#2222b8" stroke-width="1.4" stroke-linejoin="round" stroke-linecap="round"/>
<polyline points="274.9,631.7 272.8,639.8 265.3,648.3 258.9,658.9 254.7,669.6 246.2,690.8 237.7,717.4 231.3,733.4 214.3,760.0 199.4,775.9 178.1,802.5 168.5,818.5 160.0,839.8 158.9,845.5 149.4,866.8 140.9,888.1 135.5,909.3 132.3,930.6 130.2,951.9 129.1,973.2" fill="none" stroke="#2222b8" stroke-width="2.6" stroke-linejoin="round" stroke-linecap="round"/>
<polyline points="278.1,631.7 276.0,639.8 267.4,648.3 256.8,658.9 250.4,669.6 239.8,690.8 231.3,717.4 226.0,733.4 207.9,760.0 193.0,775.9 173.8,802.5 163.2,818.5 154.7,839.8 151.5,845.5 141.9,866.8 133.4,888.1 127.0,909.3 123.8,930.6 122.8,951.9 122.8,973.2" fill="none" stroke="#ff0000" stroke-width="3.0" stroke-linejoin="round" stroke-linecap="round"/>
<path d="M147 631.7v4.2M147 1056.6v-4.2M180.5 631.7v4.2M180.5 1056.6v-4.2M214 631.7v4.2M214 1056.6v-4.2M247.5 631.7v4.2M247.5 1056.6v-4.2M281 631.7v4.2M281 1056.6v-4.2M314.5 631.7v4.2M314.5 1056.6v-4.2M113.5 674.4h4.2M348 674.4h-4.2M113.5 717.1h4.2M348 717.1h-4.2M113.5 759.8h4.2M348 759.8h-4.2M113.5 802.5h4.2M348 802.5h-4.2M113.5 845.2h4.2M348 845.2h-4.2M113.5 887.9h4.2M348 887.9h-4.2M113.5 930.6h4.2M348 930.6h-4.2M113.5 973.3h4.2M348 973.3h-4.2M113.5 1016h4.2M348 1016h-4.2" stroke="#262626" stroke-width="1.3" fill="none"/>
<rect x="113.5" y="631.7" width="234.5" height="424.9" stroke="#262626" stroke-width="1.3" fill="none"/>
<text transform="translate(113.5 1091.2) scale(0.97 1)" font-size="28.2" text-anchor="middle">7.8</text>
<text transform="translate(180.5 1091.2) scale(0.97 1)" font-size="28.2" text-anchor="middle">7.9</text>
<text transform="translate(247.5 1091.2) scale(0.97 1)" font-size="28.2" text-anchor="middle">8</text>
<text transform="translate(314.5 1091.2) scale(0.97 1)" font-size="28.2" text-anchor="middle">8.1</text>
<path d="M369.1 631.7V1056.6M388.5 631.7V1056.6M407.9 631.7V1056.6M427.3 631.7V1056.6M446.7 631.7V1056.6M466.1 631.7V1056.6M485.5 631.7V1056.6M361.3 674.4H504.9M361.3 717.1H504.9M361.3 759.8H504.9M361.3 802.5H504.9M361.3 845.2H504.9M361.3 887.9H504.9M361.3 930.6H504.9M361.3 973.3H504.9M361.3 1016H504.9" stroke="#d2d2d2" stroke-width="1.7" stroke-linecap="round" stroke-dasharray="0 8.87" fill="none"/>
<polygon points="422.9,631.9 421.9,656.3 420.9,685.5 421.9,717.3 431.7,717.3 432.1,631.9" fill="#c8c8c8" stroke="#c8c8c8" stroke-width="4" stroke-linejoin="round" opacity="0.82"/>
<polygon points="460.0,631.9 460.0,717.3 472.6,717.3 472.6,685.5 471.7,656.3 472.6,631.9" fill="#c8c8c8" stroke="#c8c8c8" stroke-width="4" stroke-linejoin="round" opacity="0.82"/>
<polygon points="434.6,631.9 433.6,656.3 435.6,675.8 437.5,695.3 435.6,712.8 439.5,717.3 460.9,717.3 460.0,666.0 459.0,631.9" fill="#b3b3f7" stroke="#b3b3f7" stroke-width="4" stroke-linejoin="round" opacity="0.82"/>
<polyline points="477.5,702.1 472.6,712.8 480.4,717.7" fill="none" stroke="#b3b3f7" stroke-width="6" stroke-linecap="round" stroke-dasharray="0.1 12" opacity="0.9"/>
<path d="M440.4 728.4H460.9M443.4 739.2H460.9M444.3 749.9H460.9M445.3 760.2H460.9M444.3 771.3H461.9M445.3 782.1H461.9M445.3 792.8H461.9M447.3 802.5H464.8M448.3 813.3H467.8M449.2 824.0H467.8M451.2 834.7H467.8M450.2 845.4H464.8M448.3 866.3H465.8M448.3 888.1H464.8M447.3 909.2H464.8M446.3 931.0H462.9M446.3 952.1H462.9M446.3 973.5H460.0" stroke="#b3b3f7" stroke-width="5" stroke-linecap="round" fill="none" opacity="0.88"/>
<path d="M425.8 728.4H432.1M425.8 739.2H432.1M425.8 749.9H432.1M425.8 760.6H432.1M425.8 771.3H432.1M425.8 782.1H432.1M425.8 792.8H432.1M425.8 803.5H432.1M425.8 814.2H432.1M425.8 825.0H432.1M425.8 835.7H432.1M427.4 845.4H432.6M427.4 866.3H432.6M427.4 888.1H432.6M427.4 909.2H432.6M427.4 931.0H432.6M427.4 952.1H432.6" stroke="#bcbcbc" stroke-width="4" stroke-linecap="round" fill="none" opacity="0.88"/>
<path d="M460.0 728.4H467.8M460.0 739.2H467.8M460.0 749.9H467.8M460.0 760.6H467.8M460.0 771.3H467.8M460.0 782.1H467.8M460.0 792.8H467.8M460.0 803.5H467.8M460.0 814.2H467.8M460.0 825.0H467.8M460.0 835.7H467.8M460.0 845.4H465.8M460.0 866.3H465.8M460.0 888.1H465.8M460.0 909.2H465.8M460.0 931.0H465.8M460.0 952.1H465.8" stroke="#bcbcbc" stroke-width="4" stroke-linecap="round" fill="none" opacity="0.88"/>
<path d="M446.7 631.7V1056.6" stroke="#262626" stroke-width="1.5" stroke-dasharray="5.8 3.5 5.5 3.5 1.5 15.6" stroke-dashoffset="-4" fill="none"/>
<polyline points="425.8,631.9 425.8,717.3" fill="none" stroke="#000000" stroke-width="1.3" stroke-linejoin="round" stroke-linecap="round"/>
<polyline points="467.8,631.9 467.8,717.3" fill="none" stroke="#000000" stroke-width="1.3" stroke-linejoin="round" stroke-linecap="round"/>
<polyline points="430.1,631.9 429.3,666.0 428.7,717.3 428.7,763.5 429.3,802.5 429.7,845.1 430.7,888.1 430.7,931.0 430.7,973.5" fill="none" stroke="#000000" stroke-width="3.0" stroke-linejoin="round" stroke-linecap="round"/>
<polyline points="462.5,631.9 462.9,666.0 462.9,717.3 463.9,763.5 461.9,802.5 460.9,845.1 462.9,888.1 462.5,931.0 461.9,973.5" fill="none" stroke="#000000" stroke-width="3.0" stroke-linejoin="round" stroke-linecap="round"/>
<polyline points="435.6,631.9 438.5,646.5 441.4,656.3 445.3,666.0 448.3,685.5 450.2,705.0 451.2,717.3 452.2,744.0 453.1,763.5 454.1,783.0 455.1,802.5 456.1,822.0 454.1,845.1 454.1,888.1 452.7,931.0 450.8,973.5" fill="none" stroke="#2222b8" stroke-width="1.4" stroke-linejoin="round" stroke-linecap="round"/>
<polyline points="451.2,631.9 452.2,646.5 455.1,656.3 458.0,666.0 459.0,685.5 459.0,717.3 460.0,763.5 460.9,783.0 461.9,802.5 461.9,822.0 459.4,845.1 457.0,888.1 455.7,931.0 453.5,973.5" fill="none" stroke="#2222b8" stroke-width="1.4" stroke-linejoin="round" stroke-linecap="round"/>
<polyline points="443.4,631.9 446.3,646.5 449.2,656.3 452.2,666.0 453.1,685.5 455.1,705.0 455.1,744.0 456.1,763.5 457.0,783.0 459.0,802.5 460.0,822.0 457.0,845.1 455.5,888.1 454.3,931.0 452.2,973.5" fill="none" stroke="#2222b8" stroke-width="2.6" stroke-linejoin="round" stroke-linecap="round"/>
<path d="M369.1 631.7v4.2M369.1 1056.6v-4.2M388.5 631.7v4.2M388.5 1056.6v-4.2M407.9 631.7v4.2M407.9 1056.6v-4.2M427.3 631.7v4.2M427.3 1056.6v-4.2M446.7 631.7v4.2M446.7 1056.6v-4.2M466.1 631.7v4.2M466.1 1056.6v-4.2M485.5 631.7v4.2M485.5 1056.6v-4.2M361.3 674.4h4.2M504.9 674.4h-4.2M361.3 717.1h4.2M504.9 717.1h-4.2M361.3 759.8h4.2M504.9 759.8h-4.2M361.3 802.5h4.2M504.9 802.5h-4.2M361.3 845.2h4.2M504.9 845.2h-4.2M361.3 887.9h4.2M504.9 887.9h-4.2M361.3 930.6h4.2M504.9 930.6h-4.2M361.3 973.3h4.2M504.9 973.3h-4.2M361.3 1016h4.2M504.9 1016h-4.2" stroke="#262626" stroke-width="1.3" fill="none"/>
<rect x="361.3" y="631.7" width="143.6" height="424.9" stroke="#262626" stroke-width="1.3" fill="none"/>
<text transform="translate(369.1 1091.2) scale(0.97 1)" font-size="28.2" text-anchor="middle">-0.1</text>
<text transform="translate(446.7 1091.2) scale(0.97 1)" font-size="28.2" text-anchor="middle">0</text>
<path d="M556.8 631.7V1056.6M586.9 631.7V1056.6M616.9 631.7V1056.6M647 631.7V1056.6M677 631.7V1056.6M707.1 631.7V1056.6M737.1 631.7V1056.6M767.2 631.7V1056.6M544.8 674.4H779.2M544.8 717.1H779.2M544.8 759.8H779.2M544.8 802.5H779.2M544.8 845.2H779.2M544.8 887.9H779.2M544.8 930.6H779.2M544.8 973.3H779.2M544.8 1016H779.2" stroke="#d2d2d2" stroke-width="1.7" stroke-linecap="round" stroke-dasharray="0 8.87" fill="none"/>
<polygon points="585.7,631.9 586.8,640.3 593.4,649.2 606.7,660.2 611.1,671.3 614.5,693.5 616.7,717.4 622.2,717.4 622.2,671.3 617.8,649.2 613.4,631.9" fill="#fab1b1" stroke="#fab1b1" stroke-width="4" stroke-linejoin="round" opacity="0.82"/>
<polygon points="602.3,631.9 613.4,649.2 617.8,671.3 620.0,693.5 620.0,717.4 704.2,717.4 702.0,711.2 697.6,702.4 682.1,693.5 666.5,682.4 657.7,671.3 646.6,660.2 635.5,649.2 622.2,631.9" fill="#b3b3f7" stroke="#b3b3f7" stroke-width="4" stroke-linejoin="round" opacity="0.82"/>
<polyline points="706.4,700.1 722.0,703.5 733.0,704.6 744.1,706.8 755.2,706.8 766.3,709.0 777.4,713.4" fill="none" stroke="#b3b3f7" stroke-width="5" stroke-linecap="round" stroke-dasharray="0.1 9" opacity="0.9"/>
<polyline points="715.3,702.4 737.5,704.6 764.1,709.0" fill="none" stroke="#fab1b1" stroke-width="5" stroke-linecap="round" stroke-dasharray="0.1 12" opacity="0.9"/>
<polyline points="748.5,717.9 758.5,717.9" fill="none" stroke="#b3b3f7" stroke-width="5" stroke-linecap="round" stroke-dasharray="0.1 9" opacity="0.9"/>
<path d="M699.8 727.8H708.7M708.7 738.9H717.5M716.4 748.9H725.3M722.0 760.0H730.8M729.7 771.1H738.6M731.9 782.1H740.8M735.3 792.1H744.1M735.3 803.2H744.1M736.4 813.2H745.2M737.5 824.3H746.3M737.5 835.3H746.3M733.0 845.3H741.9M733.0 845.4H740.8M728.6 865.8H736.4M727.5 888.0H735.3M725.3 910.1H733.0M727.5 930.5H735.3M725.3 952.2H733.0M724.2 973.3H731.9" stroke="#fab1b1" stroke-width="5" stroke-linecap="round" fill="none" opacity="0.88"/>
<path d="M621.1 727.8H703.1M621.1 738.9H712.0M622.2 748.9H719.7M645.5 760.0H725.3M652.1 771.1H733.0M658.8 782.1H735.3M666.5 792.1H738.6M673.2 803.2H738.6M678.7 813.2H739.7M684.3 824.3H740.8M689.8 835.3H740.8M693.1 845.3H736.4M693.1 845.4H735.3M700.9 865.8H730.8M708.7 888.0H729.7M705.3 910.1H727.5M697.6 930.5H729.7M690.9 952.2H727.5M702.0 973.3H726.4" stroke="#b3b3f7" stroke-width="5" stroke-linecap="round" fill="none" opacity="0.88"/>
<polyline points="598.9,631.9 597.8,640.3 600.1,646.9 613.4,660.2 616.7,682.4 624.4,700.1 633.3,717.4 640.0,737.8 648.8,760.0 664.3,782.1 679.8,804.3 690.9,826.5 697.6,845.3 699.8,845.4 708.7,865.8 715.3,888.0 719.7,910.1 713.1,930.5 706.4,952.2 717.5,973.3" fill="none" stroke="#ff0000" stroke-width="1.8" stroke-linejoin="round" stroke-linecap="round"/>
<polyline points="616.7,631.9 617.8,640.3 626.7,649.2 637.7,660.2 642.2,671.3 657.7,693.5 677.6,717.4 690.9,737.8 699.8,748.9 704.2,760.0 713.1,782.1 724.2,804.3 733.0,826.5 733.0,845.3 733.0,845.4 730.8,865.8 729.7,888.0 728.6,910.1 729.7,930.5 728.6,952.2 726.4,973.3" fill="none" stroke="#ff0000" stroke-width="1.8" stroke-linejoin="round" stroke-linecap="round"/>
<polyline points="604.5,631.9 615.6,649.2 620.0,660.2 623.3,682.4 631.1,704.6 635.5,717.4 638.8,737.8 645.5,760.0 662.1,782.1 677.6,804.3 688.7,826.5 697.6,845.3 696.5,845.4 705.3,865.8 713.1,888.0 719.7,910.1 714.2,930.5 707.5,952.2 719.7,973.3" fill="none" stroke="#2222b8" stroke-width="1.4" stroke-linejoin="round" stroke-linecap="round"/>
<polyline points="621.1,631.9 622.2,640.3 628.9,649.2 635.5,660.2 640.0,671.3 653.2,693.5 675.4,717.4 688.7,737.8 702.0,760.0 710.9,782.1 719.7,804.3 728.6,826.5 728.6,845.3 728.6,845.4 726.4,865.8 725.3,888.0 726.4,910.1 726.4,930.5 725.3,952.2 724.2,973.3" fill="none" stroke="#2222b8" stroke-width="1.4" stroke-linejoin="round" stroke-linecap="round"/>
<polyline points="615.6,631.9 614.5,640.3 618.9,649.2 626.7,660.2 633.3,671.3 638.8,693.5 644.4,717.4 651.0,737.8 664.3,760.0 677.6,782.1 688.7,804.3 697.6,826.5 704.2,845.3 704.2,845.4 713.1,865.8 719.7,888.0 723.1,910.1 724.2,930.5 723.1,952.2 722.0,973.3" fill="none" stroke="#2222b8" stroke-width="2.6" stroke-linejoin="round" stroke-linecap="round"/>
<polyline points="608.9,631.9 611.1,640.3 617.8,649.2 626.7,660.2 633.3,671.3 638.8,693.5 642.2,717.4 651.0,737.8 662.1,760.0 679.8,782.1 690.9,804.3 699.8,826.5 707.5,845.3 707.5,845.4 715.3,865.8 722.0,888.0 726.4,910.1 727.5,930.5 726.4,952.2 725.3,973.3" fill="none" stroke="#ff0000" stroke-width="3.0" stroke-linejoin="round" stroke-linecap="round"/>
<path d="M556.8 631.7v4.2M556.8 1056.6v-4.2M586.9 631.7v4.2M586.9 1056.6v-4.2M616.9 631.7v4.2M616.9 1056.6v-4.2M647 631.7v4.2M647 1056.6v-4.2M677 631.7v4.2M677 1056.6v-4.2M707.1 631.7v4.2M707.1 1056.6v-4.2M737.1 631.7v4.2M737.1 1056.6v-4.2M767.2 631.7v4.2M767.2 1056.6v-4.2M544.8 674.4h4.2M779.2 674.4h-4.2M544.8 717.1h4.2M779.2 717.1h-4.2M544.8 759.8h4.2M779.2 759.8h-4.2M544.8 802.5h4.2M779.2 802.5h-4.2M544.8 845.2h4.2M779.2 845.2h-4.2M544.8 887.9h4.2M779.2 887.9h-4.2M544.8 930.6h4.2M779.2 930.6h-4.2M544.8 973.3h4.2M779.2 973.3h-4.2M544.8 1016h4.2M779.2 1016h-4.2" stroke="#262626" stroke-width="1.3" fill="none"/>
<rect x="544.8" y="631.7" width="234.4" height="424.9" stroke="#262626" stroke-width="1.3" fill="none"/>
<text transform="translate(556.8 1091.2) scale(0.97 1)" font-size="28.2" text-anchor="middle">350</text>
<text transform="translate(616.9 1091.2) scale(0.97 1)" font-size="28.2" text-anchor="middle">450</text>
<text transform="translate(677 1091.2) scale(0.97 1)" font-size="28.2" text-anchor="middle">550</text>
<text transform="translate(737.1 1091.2) scale(0.97 1)" font-size="28.2" text-anchor="middle">650</text>
<path d="M801.6 631.7V1056.6M820.3 631.7V1056.6M838.9 631.7V1056.6M857.6 631.7V1056.6M876.2 631.7V1056.6M894.8 631.7V1056.6M913.5 631.7V1056.6M932.1 631.7V1056.6M792.3 674.4H936.8M792.3 717.1H936.8M792.3 759.8H936.8M792.3 802.5H936.8M792.3 845.2H936.8M792.3 887.9H936.8M792.3 930.6H936.8M792.3 973.3H936.8M792.3 1016H936.8" stroke="#d2d2d2" stroke-width="1.7" stroke-linecap="round" stroke-dasharray="0 8.87" fill="none"/>
<polygon points="828.2,632.3 826.7,672.2 825.2,696.3 838.0,717.4 838.8,672.2 839.5,632.3" fill="#c8c8c8" stroke="#c8c8c8" stroke-width="4" stroke-linejoin="round" opacity="0.82"/>
<polygon points="875.0,632.3 875.7,672.2 876.5,717.4 887.8,696.3 886.3,672.2 884.7,632.3" fill="#c8c8c8" stroke="#c8c8c8" stroke-width="4" stroke-linejoin="round" opacity="0.82"/>
<polyline points="825.2,697.8 819.2,703.9 815.4,709.9 816.2,715.9" fill="none" stroke="#c8c8c8" stroke-width="6" stroke-linecap="round" stroke-dasharray="0.1 9" opacity="0.9"/>
<polyline points="888.5,697.8 895.3,703.9 899.1,709.9 896.1,715.9" fill="none" stroke="#c8c8c8" stroke-width="6" stroke-linecap="round" stroke-dasharray="0.1 9" opacity="0.9"/>
<polygon points="843.3,632.3 841.0,672.2 840.3,717.4 876.5,717.4 876.5,672.2 878.0,632.3" fill="#b3b3f7" stroke="#b3b3f7" stroke-width="4" stroke-linejoin="round" opacity="0.82"/>
<polyline points="885.5,636.0 888.5,645.1 891.5,652.6 890.0,660.2 890.8,667.7" fill="none" stroke="#b3b3f7" stroke-width="6" stroke-linecap="round" stroke-dasharray="0.1 12" opacity="0.9"/>
<circle cx="804.1" cy="717.4" r="2.5" fill="#b3b3f7" opacity="0.9"/><circle cx="819.2" cy="702.4" r="2.5" fill="#b3b3f7" opacity="0.9"/><circle cx="820.7" cy="712.9" r="2.5" fill="#b3b3f7" opacity="0.9"/>
<path d="M824.5 728.0H838.8M824.5 739.3H838.8M824.5 749.8H838.8M824.5 760.4H838.8M824.5 770.9H838.8M824.5 781.5H838.8M824.5 792.0H838.8M874.2 728.0H891.5M874.2 739.3H891.5M874.2 749.8H891.5M874.2 760.4H891.5M874.2 770.9H891.5M874.2 781.5H891.5M874.2 792.0H891.5M826.7 813.4H834.3M826.7 823.9H834.3M826.7 835.2H834.3M826.7 845.5H834.3M826.7 866.9H834.3M826.7 888.0H834.3M826.7 909.1H834.3M826.7 930.9H834.3M826.7 952.0H834.3M878.7 813.4H888.5M878.7 823.9H888.5M878.7 835.2H888.5M878.7 845.5H888.5M878.7 866.9H888.5M878.7 888.0H888.5M878.7 909.1H888.5M878.7 930.9H888.5M878.7 952.0H888.5M829.0 909.6H835.0M829.0 930.7H835.0M829.0 951.8H835.0M829.0 972.9H835.0M879.5 909.6H885.5M879.5 930.7H885.5M879.5 951.8H885.5M879.5 972.9H885.5" stroke="#b0b0b0" stroke-width="5" stroke-linecap="round" fill="none" opacity="0.88"/>
<path d="M840.3 728.0H876.5M841.0 739.3H870.4M840.3 749.8H869.7M839.5 760.4H868.9M839.5 770.9H868.9M839.5 781.5H866.7M838.8 792.0H868.9M835.8 813.4H861.4M835.0 823.9H861.4M835.0 835.2H856.9M840.3 845.5H858.4M841.0 866.9H859.9M842.5 888.0H861.4M839.5 909.1H862.9M843.3 930.9H864.4M839.5 909.6H863.6M843.3 930.7H863.6M842.5 951.8H865.2M843.3 972.9H867.4" stroke="#b3b3f7" stroke-width="5" stroke-linecap="round" fill="none" opacity="0.88"/>
<path d="M857.6 631.7V1056.6" stroke="#262626" stroke-width="1.5" stroke-dasharray="5.8 3.5 5.5 3.5 1.5 15.6" stroke-dashoffset="-4" fill="none"/>
<polyline points="832.0,632.3 829.7,672.2 828.2,717.4 829.0,762.6 829.7,797.0 831.2,817.1" fill="none" stroke="#000000" stroke-width="1.3" stroke-linejoin="round" stroke-linecap="round"/>
<polyline points="839.5,632.3 838.8,672.2 838.0,717.4 837.3,762.6 835.8,797.0" fill="none" stroke="#000000" stroke-width="1.3" stroke-linejoin="round" stroke-linecap="round"/>
<polyline points="874.2,632.3 875.3,672.2 876.5,717.4 878.0,762.6 879.5,797.0" fill="none" stroke="#000000" stroke-width="1.3" stroke-linejoin="round" stroke-linecap="round"/>
<polyline points="882.5,632.3 884.7,672.2 887.0,717.4 886.3,762.6 885.5,797.0 884.0,824.7" fill="none" stroke="#000000" stroke-width="1.3" stroke-linejoin="round" stroke-linecap="round"/>
<polyline points="836.5,632.3 835.8,672.2 835.0,717.4 835.0,762.6 834.3,797.0 833.5,802.5 832.0,832.2 832.0,845.5 832.8,888.0 832.8,930.9 832.0,930.7 832.0,972.9" fill="none" stroke="#000000" stroke-width="3.0" stroke-linejoin="round" stroke-linecap="round"/>
<polyline points="876.5,632.3 878.0,672.2 879.5,717.4 880.2,762.6 881.0,797.0 882.5,802.5 883.2,832.2 882.5,845.5 882.5,888.0 881.7,930.9 882.5,930.7 882.5,972.9" fill="none" stroke="#000000" stroke-width="3.0" stroke-linejoin="round" stroke-linecap="round"/>
<polyline points="855.4,632.3 855.4,642.1 850.1,652.6 848.6,664.7 849.3,674.9 847.8,694.8 848.6,717.4 848.6,732.5 847.8,747.6 847.1,760.4 844.8,777.7 842.5,802.5 840.3,832.2 845.6,845.5 846.3,866.9 847.1,888.0 847.8,930.9 848.6,930.7 849.3,972.9" fill="none" stroke="#2222b8" stroke-width="1.4" stroke-linejoin="round" stroke-linecap="round"/>
<polyline points="878.0,632.3 876.5,642.1 872.7,652.6 869.7,664.7 868.9,674.9 866.7,694.8 867.4,709.9 866.7,717.4 865.2,732.5 864.4,747.6 862.9,760.4 861.4,777.7 856.9,802.5 856.1,812.6 853.1,824.7 851.6,832.2 855.4,845.5 856.1,866.9 856.1,888.0 856.9,909.1 857.6,930.9 859.1,930.7 860.6,972.9" fill="none" stroke="#2222b8" stroke-width="1.4" stroke-linejoin="round" stroke-linecap="round"/>
<polyline points="867.4,632.3 867.4,642.1 862.1,657.1 857.6,666.2 857.6,674.9 856.9,694.8 856.9,717.4 856.1,732.5 855.4,747.6 854.6,760.4 853.1,777.7 850.1,802.5 848.6,832.2 850.1,845.5 850.8,866.9 851.6,888.0 852.0,909.1 852.3,930.9 853.1,930.7 853.9,950.3 855.4,972.9" fill="none" stroke="#2222b8" stroke-width="2.6" stroke-linejoin="round" stroke-linecap="round"/>
<path d="M801.6 631.7v4.2M801.6 1056.6v-4.2M820.3 631.7v4.2M820.3 1056.6v-4.2M838.9 631.7v4.2M838.9 1056.6v-4.2M857.6 631.7v4.2M857.6 1056.6v-4.2M876.2 631.7v4.2M876.2 1056.6v-4.2M894.8 631.7v4.2M894.8 1056.6v-4.2M913.5 631.7v4.2M913.5 1056.6v-4.2M932.1 631.7v4.2M932.1 1056.6v-4.2M792.3 674.4h4.2M936.8 674.4h-4.2M792.3 717.1h4.2M936.8 717.1h-4.2M792.3 759.8h4.2M936.8 759.8h-4.2M792.3 802.5h4.2M936.8 802.5h-4.2M792.3 845.2h4.2M936.8 845.2h-4.2M792.3 887.9h4.2M936.8 887.9h-4.2M792.3 930.6h4.2M936.8 930.6h-4.2M792.3 973.3h4.2M936.8 973.3h-4.2M792.3 1016h4.2M936.8 1016h-4.2" stroke="#262626" stroke-width="1.3" fill="none"/>
<rect x="792.3" y="631.7" width="144.5" height="424.9" stroke="#262626" stroke-width="1.3" fill="none"/>
<text transform="translate(820.3 1091.2) scale(0.97 1)" font-size="28.2" text-anchor="middle">-40</text>
<text transform="translate(857.6 1091.2) scale(0.97 1)" font-size="28.2" text-anchor="middle">0</text>
<text transform="translate(894.8 1091.2) scale(0.97 1)" font-size="28.2" text-anchor="middle">40</text>
<text transform="translate(932.1 1091.2) scale(0.97 1)" font-size="28.2" text-anchor="middle">80</text>
<path d="M985.4 631.7V1056.6M1010.3 631.7V1056.6M1035.1 631.7V1056.6M1059.9 631.7V1056.6M1084.7 631.7V1056.6M1109.6 631.7V1056.6M975.5 674.4H1119.5M975.5 717.1H1119.5M975.5 759.8H1119.5M975.5 802.5H1119.5M975.5 845.2H1119.5M975.5 887.9H1119.5M975.5 930.6H1119.5M975.5 973.3H1119.5M975.5 1016H1119.5" stroke="#d2d2d2" stroke-width="1.7" stroke-linecap="round" stroke-dasharray="0 8.87" fill="none"/>
<polygon points="991.0,632.1 993.2,655.9 1002.6,658.8 1008.4,667.5 1011.2,674.7 1015.6,692.0 1018.5,706.5 1020.6,717.3 1072.7,717.3 1076.3,706.5 1079.2,692.0 1080.6,674.7 1083.5,663.1 1084.9,655.9 1080.6,653.0 1080.6,632.1" fill="#fab1b1" stroke="#fab1b1" stroke-width="4" stroke-linejoin="round" opacity="0.82"/>
<path d="M1024.2 728.2H1072.7M1028.6 738.3H1069.0M1030.8 749.1H1069.0M1032.9 759.9H1068.3M1040.1 770.8H1069.0M1036.5 781.6H1069.0M1042.3 792.3H1069.0M1043.8 802.8H1068.3M1048.1 813.5H1068.3M1051.7 824.1H1070.5M1055.3 834.9H1072.7M1056.0 845.3H1074.8M1061.8 866.7H1078.4M1066.9 888.1H1080.6M1071.9 909.3H1082.8M1075.5 931.0H1082.8M1084.9 973.4H1090.7" stroke="#fab1b1" stroke-width="5" stroke-linecap="round" fill="none" opacity="0.88"/>
<path d="M1084.7 631.7V1056.6" stroke="#262626" stroke-width="1.5" stroke-dasharray="5.8 3.5 5.5 3.5 1.5 15.6" stroke-dashoffset="-4" fill="none"/>
<polyline points="1009.8,632.1 1007.6,641.5 1011.2,651.6 1025.7,663.1 1030.0,674.7 1031.5,692.0 1034.4,706.5 1036.5,717.3 1043.8,742.6 1046.6,759.9 1051.7,786.0 1057.5,802.4 1060.4,817.6 1063.3,845.3 1070.5,888.1 1080.6,931.0" fill="none" stroke="#ff0000" stroke-width="1.8" stroke-linejoin="round" stroke-linecap="round"/>
<polyline points="1068.3,632.1 1068.3,641.5 1069.0,651.6 1071.9,663.1 1071.9,674.7 1069.8,692.0 1066.9,717.3 1063.3,742.6 1063.3,786.0 1064.7,823.4 1066.2,845.3 1071.9,866.7 1074.8,888.1 1082.1,931.0" fill="none" stroke="#ff0000" stroke-width="1.8" stroke-linejoin="round" stroke-linecap="round"/>
<polyline points="1054.6,632.1 1054.6,641.5 1056.0,651.6 1063.3,663.1 1065.4,674.7 1064.7,692.0 1061.1,717.3 1059.7,742.6 1060.4,786.0 1061.8,802.4 1062.5,823.4 1064.0,845.3 1067.6,866.7 1071.2,888.1 1076.3,910.1 1080.6,931.0 1080.6,931.1 1084.2,953.5 1087.8,973.4" fill="none" stroke="#ff0000" stroke-width="3.2" stroke-linejoin="round" stroke-linecap="round"/>
<path d="M985.4 631.7v4.2M985.4 1056.6v-4.2M1010.3 631.7v4.2M1010.3 1056.6v-4.2M1035.1 631.7v4.2M1035.1 1056.6v-4.2M1059.9 631.7v4.2M1059.9 1056.6v-4.2M1084.7 631.7v4.2M1084.7 1056.6v-4.2M1109.6 631.7v4.2M1109.6 1056.6v-4.2M975.5 674.4h4.2M1119.5 674.4h-4.2M975.5 717.1h4.2M1119.5 717.1h-4.2M975.5 759.8h4.2M1119.5 759.8h-4.2M975.5 802.5h4.2M1119.5 802.5h-4.2M975.5 845.2h4.2M1119.5 845.2h-4.2M975.5 887.9h4.2M1119.5 887.9h-4.2M975.5 930.6h4.2M1119.5 930.6h-4.2M975.5 973.3h4.2M1119.5 973.3h-4.2M975.5 1016h4.2M1119.5 1016h-4.2" stroke="#262626" stroke-width="1.3" fill="none"/>
<rect x="975.5" y="631.7" width="144" height="424.9" stroke="#262626" stroke-width="1.3" fill="none"/>
<text transform="translate(985.4 1091.2) scale(0.97 1)" font-size="28.2" text-anchor="middle">-1</text>
<text transform="translate(1035.1 1091.2) scale(0.97 1)" font-size="28.2" text-anchor="middle">-0.5</text>
<text transform="translate(1084.7 1091.2) scale(0.97 1)" font-size="28.2" text-anchor="middle">0</text>
<text transform="translate(102.3 641) scale(0.97 1)" font-size="28.2" text-anchor="end">0</text>
<text transform="translate(102.3 683.7) scale(0.97 1)" font-size="28.2" text-anchor="end">200</text>
<text transform="translate(102.3 726.4) scale(0.97 1)" font-size="28.2" text-anchor="end">400</text>
<text transform="translate(102.3 769.1) scale(0.97 1)" font-size="28.2" text-anchor="end">600</text>
<text transform="translate(102.3 811.8) scale(0.97 1)" font-size="28.2" text-anchor="end">800</text>
<text transform="translate(102.3 854.5) scale(0.97 1)" font-size="28.2" text-anchor="end">1000</text>
<text transform="translate(102.3 897.2) scale(0.97 1)" font-size="28.2" text-anchor="end">1200</text>
<text transform="translate(102.3 939.9) scale(0.97 1)" font-size="28.2" text-anchor="end">1400</text>
<text transform="translate(102.3 982.6) scale(0.97 1)" font-size="28.2" text-anchor="end">1600</text>
<text transform="translate(102.3 1025.3) scale(0.97 1)" font-size="28.2" text-anchor="end">1800</text>
<text transform="translate(25.5 844.1) rotate(-90)" font-size="28.5" text-anchor="middle">pressure / dbar</text>
<text x="230.8" y="1122.9" font-size="28.5" text-anchor="middle">pH<tspan font-size="21.5" dy="12.8">in-situ</tspan></text>
<text x="433.1" y="1122.9" font-size="28.5" text-anchor="middle">ΔpH<tspan font-size="21.5" dy="12.8">in-situ</tspan></text>
<text x="662" y="1122.9" font-size="28.5" text-anchor="middle"><tspan font-style="italic">p</tspan>CO<tspan font-size="21.5" dy="12.8">2</tspan><tspan dy="-13"> / </tspan><tspan font-style="italic">μ</tspan>atm</text>
<text x="863.5" y="1122.9" font-size="28.5" letter-spacing="0.9" text-anchor="middle">Δ<tspan font-style="italic">p</tspan>CO<tspan font-size="21.5" dy="12.8">2</tspan><tspan dy="-13"> / </tspan><tspan font-style="italic">μ</tspan>atm</text>
<text x="1043" y="1122.9" font-size="28.5" text-anchor="middle">S - S<tspan font-size="21.5" dy="12.8">1500 dbar</tspan></text>
<path d="M124 1009.6h66.5" stroke="#ff0000" stroke-width="2.6"/>
<path d="M124 1037.3h66.5" stroke="#2424b4" stroke-width="2"/>
<text x="197.5" y="1017.6" font-size="26">pH Sensor</text>
<text x="197.5" y="1045.1" font-size="26">CONTENT</text>
<path d="M555.3 1009.6h66.5" stroke="#ff0000" stroke-width="2.6"/>
<path d="M555.3 1037.3h66.5" stroke="#2424b4" stroke-width="2"/>
<text x="628.8" y="1017.6" font-size="26">Williams 2017</text>
<text x="628.8" y="1045.1" font-size="26">CONTENT</text>
<path d="M373.8 1012.1h66.5" stroke="#2424b4" stroke-width="2"/>
<path d="M373.8 1039.3h66.5" stroke="#000" stroke-width="2.6"/>
<path d="M449.2 1017.7L457 1002.7L464.9 1017.7Z" fill="none" stroke="#000" stroke-width="1.7" stroke-linejoin="miter"/>
<text x="447.3" y="1045.1" font-size="26" style="font-family:Liberation Serif,serif;font-style:italic">σ</text>
<path d="M804.8 1012.1h66.5" stroke="#2424b4" stroke-width="2"/>
<path d="M804.8 1039.3h66.5" stroke="#000" stroke-width="2.6"/>
<path d="M880.2 1017.7L888 1002.7L895.9 1017.7Z" fill="none" stroke="#000" stroke-width="1.7" stroke-linejoin="miter"/>
<text x="878.3" y="1045.1" font-size="26" style="font-family:Liberation Serif,serif;font-style:italic">σ</text>
<text x="323.3" y="1204.2" font-size="28.7">WMO 5904469 - Atlantic Polar Antarctic Zone</text>
<path d="M147 1220.9V1645.8M180.5 1220.9V1645.8M214 1220.9V1645.8M247.5 1220.9V1645.8M281 1220.9V1645.8M314.5 1220.9V1645.8M113.5 1263.6H348M113.5 1306.3H348M113.5 1349H348M113.5 1391.7H348M113.5 1434.4H348M113.5 1477.1H348M113.5 1519.8H348M113.5 1562.5H348M113.5 1605.2H348" stroke="#d2d2d2" stroke-width="1.7" stroke-linecap="round" stroke-dasharray="0 8.87" fill="none"/>
<polygon points="233.4,1220.7 235.5,1228.8 241.9,1237.3 220.6,1245.8 184.5,1252.2 152.6,1258.6 133.4,1263.9 128.1,1271.3 129.1,1279.8 133.4,1290.5 137.7,1306.4 173.8,1306.4 173.8,1279.8 178.1,1271.3 184.5,1262.8 216.4,1252.2 248.3,1243.7 269.6,1237.3 269.6,1220.7" fill="#fab1b1" stroke="#fab1b1" stroke-width="4" stroke-linejoin="round" opacity="0.82"/>
<polygon points="273.8,1220.7 263.2,1237.3 220.6,1245.8 169.6,1252.2 152.6,1258.6 146.2,1271.3 150.4,1290.5 152.6,1306.4 167.4,1306.4 169.6,1290.5 182.3,1279.8 199.4,1271.3 222.8,1264.9 248.3,1258.6 265.3,1254.3 284.5,1247.9 293.0,1237.3 303.6,1228.8 306.8,1220.7" fill="#b3b3f7" stroke="#b3b3f7" stroke-width="4" stroke-linejoin="round" opacity="0.82"/>
<polyline points="195.1,1269.2 184.5,1279.8 167.4,1286.2" fill="none" stroke="#b3b3f7" stroke-width="5" stroke-linecap="round" stroke-dasharray="0.1 14" opacity="0.9"/>
<polyline points="176.0,1275.6 169.6,1279.8" fill="none" stroke="#fab1b1" stroke-width="5" stroke-linecap="round" stroke-dasharray="0.1 10" opacity="0.9"/>
<path d="M141.9 1317.1H178.1M144.0 1327.7H180.2M149.4 1338.3H183.4M155.7 1349.0H184.5M160.0 1359.6H186.6M162.1 1370.3H186.6M163.2 1380.9H187.7M163.2 1391.5H187.7M165.3 1402.2H186.6M167.4 1412.8H185.5M167.4 1423.4H184.5M174.9 1434.1H182.3M170.6 1455.8H183.4M171.7 1477.1H182.3M169.6 1498.3H179.1M167.4 1519.6H176.0M165.3 1540.9H178.1M163.2 1562.2H171.7" stroke="#fab1b1" stroke-width="5" stroke-linecap="round" fill="none" opacity="0.88"/>
<path d="M154.7 1317.1H172.8M156.8 1327.7H174.9M162.1 1338.3H178.1M168.5 1349.0H179.1M172.8 1359.6H181.3M174.9 1370.3H181.3M176.0 1380.9H182.3M176.0 1391.5H182.3M178.1 1402.2H181.3M180.2 1412.8H180.2M180.2 1423.4H179.1M187.7 1434.1H177.0" stroke="#b3b3f7" stroke-width="5" stroke-linecap="round" fill="none" opacity="0.88"/>
<circle cx="158.9" cy="1477.1" r="2.5" fill="#fab1b1" opacity="0.9"/><circle cx="210.0" cy="1562.2" r="2.5" fill="#fab1b1" opacity="0.9"/>
<polyline points="249.4,1220.7 250.4,1228.8 248.3,1237.3 227.0,1245.8 190.9,1252.2 158.9,1258.6 143.0,1263.9 139.8,1271.3 140.9,1279.8 143.0,1290.5 148.3,1306.4 155.7,1322.4 165.3,1349.0 170.6,1370.3 173.8,1391.5 176.0,1412.8 178.1,1434.1 177.7,1455.8 174.9,1477.1 172.8,1498.3 170.6,1519.6 168.5,1540.9 166.4,1562.2" fill="none" stroke="#ff0000" stroke-width="1.8" stroke-linejoin="round" stroke-linecap="round"/>
<polyline points="276.0,1220.7 279.1,1228.8 278.1,1233.0 258.9,1241.5 220.6,1252.2 190.9,1258.6 169.6,1263.9 156.8,1271.3 154.7,1279.8 155.7,1290.5 161.1,1306.4 169.6,1322.4 178.1,1349.0 183.4,1370.3 185.5,1391.5 185.5,1412.8 183.4,1434.1 181.3,1455.8 178.5,1477.1 176.0,1498.3 173.4,1519.6 170.6,1540.9 167.9,1562.2" fill="none" stroke="#ff0000" stroke-width="1.8" stroke-linejoin="round" stroke-linecap="round"/>
<polyline points="280.2,1220.7 273.8,1233.0 254.7,1239.4 216.4,1247.9 173.8,1258.6 152.6,1263.9 148.3,1271.3 148.3,1279.8 155.7,1306.4 162.1,1322.4 169.6,1349.0 177.0,1391.5 179.1,1434.1" fill="none" stroke="#2222b8" stroke-width="1.4" stroke-linejoin="round" stroke-linecap="round"/>
<polyline points="298.3,1220.7 293.0,1228.8 282.3,1241.5 258.9,1250.0 220.6,1258.6 180.2,1264.9 163.2,1271.3 158.9,1279.8 157.9,1290.5 163.2,1306.4 171.7,1322.4 178.1,1349.0 181.3,1391.5 182.3,1434.1" fill="none" stroke="#2222b8" stroke-width="1.4" stroke-linejoin="round" stroke-linecap="round"/>
<polyline points="282.3,1220.7 278.1,1233.0 263.2,1241.5 229.1,1250.0 186.6,1258.6 163.2,1263.9 152.6,1271.3 151.5,1279.8 153.6,1290.5 158.9,1306.4 165.3,1322.4 172.8,1349.0 176.0,1370.3 178.1,1391.5 179.1,1412.8 180.2,1434.1 177.7,1455.8 174.9,1477.1 172.8,1498.3 170.6,1519.6 168.5,1540.9 167.0,1562.2" fill="none" stroke="#2222b8" stroke-width="2.6" stroke-linejoin="round" stroke-linecap="round"/>
<polyline points="263.2,1220.7 264.3,1228.8 258.9,1237.3 241.9,1245.8 205.7,1252.2 169.6,1258.6 152.6,1263.9 145.1,1271.3 144.0,1279.8 148.3,1290.5 155.7,1306.4 163.2,1322.4 171.7,1349.0 174.9,1370.3 178.1,1391.5 179.1,1412.8 180.2,1434.1 179.1,1434.1 177.0,1455.8 174.9,1477.1 172.8,1498.3 170.6,1519.6 168.5,1540.9 166.4,1562.2" fill="none" stroke="#ff0000" stroke-width="3.0" stroke-linejoin="round" stroke-linecap="round"/>
<path d="M147 1220.9v4.2M147 1645.8v-4.2M180.5 1220.9v4.2M180.5 1645.8v-4.2M214 1220.9v4.2M214 1645.8v-4.2M247.5 1220.9v4.2M247.5 1645.8v-4.2M281 1220.9v4.2M281 1645.8v-4.2M314.5 1220.9v4.2M314.5 1645.8v-4.2M113.5 1263.6h4.2M348 1263.6h-4.2M113.5 1306.3h4.2M348 1306.3h-4.2M113.5 1349h4.2M348 1349h-4.2M113.5 1391.7h4.2M348 1391.7h-4.2M113.5 1434.4h4.2M348 1434.4h-4.2M113.5 1477.1h4.2M348 1477.1h-4.2M113.5 1519.8h4.2M348 1519.8h-4.2M113.5 1562.5h4.2M348 1562.5h-4.2M113.5 1605.2h4.2M348 1605.2h-4.2" stroke="#262626" stroke-width="1.3" fill="none"/>
<rect x="113.5" y="1220.9" width="234.5" height="424.9" stroke="#262626" stroke-width="1.3" fill="none"/>
<text transform="translate(113.5 1680.4) scale(0.97 1)" font-size="28.2" text-anchor="middle">7.8</text>
<text transform="translate(180.5 1680.4) scale(0.97 1)" font-size="28.2" text-anchor="middle">7.9</text>
<text transform="translate(247.5 1680.4) scale(0.97 1)" font-size="28.2" text-anchor="middle">8</text>
<text transform="translate(314.5 1680.4) scale(0.97 1)" font-size="28.2" text-anchor="middle">8.1</text>
<path d="M369.1 1220.9V1645.8M388.5 1220.9V1645.8M407.9 1220.9V1645.8M427.3 1220.9V1645.8M446.7 1220.9V1645.8M466.1 1220.9V1645.8M485.5 1220.9V1645.8M361.3 1263.6H504.9M361.3 1306.3H504.9M361.3 1349H504.9M361.3 1391.7H504.9M361.3 1434.4H504.9M361.3 1477.1H504.9M361.3 1519.8H504.9M361.3 1562.5H504.9M361.3 1605.2H504.9" stroke="#d2d2d2" stroke-width="1.7" stroke-linecap="round" stroke-dasharray="0 8.87" fill="none"/>
<polygon points="425.8,1220.9 423.9,1255.0 425.8,1306.3 431.7,1306.3 431.3,1220.9" fill="#c8c8c8" stroke="#c8c8c8" stroke-width="4" stroke-linejoin="round" opacity="0.82"/>
<polygon points="461.9,1220.9 462.9,1306.3 466.8,1306.3 469.7,1255.0 467.8,1220.9" fill="#c8c8c8" stroke="#c8c8c8" stroke-width="4" stroke-linejoin="round" opacity="0.82"/>
<polygon points="449.2,1220.9 435.6,1235.5 420.0,1243.3 421.9,1253.1 433.6,1257.0 439.5,1274.5 438.5,1306.3 470.7,1306.3 472.6,1294.0 476.5,1274.5 476.5,1264.8 474.6,1255.0 480.4,1245.3 496.0,1227.7 501.9,1220.9" fill="#b3b3f7" stroke="#b3b3f7" stroke-width="4" stroke-linejoin="round" opacity="0.82"/>
<polyline points="401.4,1249.2 413.1,1251.1 412.2,1255.0" fill="none" stroke="#b3b3f7" stroke-width="5" stroke-linecap="round" stroke-dasharray="0.1 10" opacity="0.9"/>
<path d="M438.5 1317.4H469.7M437.5 1328.2H468.7M437.5 1338.9H466.8M437.5 1349.2H464.8M437.5 1360.3H463.9M438.5 1371.1H462.9M438.5 1381.8H462.9M438.5 1391.5H461.9M438.5 1402.3H461.9M438.5 1413.0H461.9M439.5 1423.7H459.0M439.5 1434.4H452.2M440.4 1455.3H456.1M441.4 1477.1H454.1M442.4 1498.2H453.1M443.4 1519.6H453.1M437.5 1541.1H453.1M442.4 1562.1H453.1" stroke="#b3b3f7" stroke-width="5" stroke-linecap="round" fill="none" opacity="0.88"/>
<circle cx="398.5" cy="1562.1" r="2.5" fill="#b3b3f7" opacity="0.9"/>
<path d="M446.7 1220.9V1645.8" stroke="#262626" stroke-width="1.5" stroke-dasharray="5.8 3.5 5.5 3.5 1.5 15.6" stroke-dashoffset="-4" fill="none"/>
<polyline points="428.7,1220.9 429.3,1235.5 428.7,1251.1 427.4,1257.0 429.7,1274.5 430.1,1306.3 429.3,1352.5 428.7,1391.5 428.2,1434.1 427.8,1562.1" fill="none" stroke="#000000" stroke-width="3.0" stroke-linejoin="round" stroke-linecap="round"/>
<polyline points="463.9,1220.9 463.9,1235.5 464.8,1251.1 466.8,1257.0 463.9,1274.5 462.9,1306.3 462.9,1352.5 463.9,1391.5 464.4,1434.1 464.8,1562.1" fill="none" stroke="#000000" stroke-width="3.0" stroke-linejoin="round" stroke-linecap="round"/>
<polyline points="451.2,1220.9 449.2,1235.5 437.5,1243.3 431.7,1249.2 441.4,1255.0 447.3,1264.8 448.3,1274.5 449.2,1306.3 445.3,1333.0 443.4,1372.0 443.4,1411.0 442.4,1434.1 445.3,1455.3 446.9,1504.0 448.3,1562.1" fill="none" stroke="#2222b8" stroke-width="1.4" stroke-linejoin="round" stroke-linecap="round"/>
<polyline points="492.1,1220.9 484.3,1227.7 479.5,1235.5 474.6,1245.3 468.7,1255.0 461.9,1260.9 462.9,1274.5 459.0,1294.0 456.1,1306.3 453.1,1333.0 451.2,1372.0 450.2,1411.0 448.3,1434.1 447.7,1455.3 448.4,1504.0 449.2,1562.1" fill="none" stroke="#2222b8" stroke-width="1.4" stroke-linejoin="round" stroke-linecap="round"/>
<polyline points="474.6,1220.9 466.8,1227.7 462.9,1235.5 459.0,1245.3 456.1,1255.0 454.1,1274.5 452.2,1294.0 451.2,1306.3 448.3,1333.0 446.3,1352.5 445.3,1372.0 445.3,1411.0 444.3,1434.1 446.3,1434.4 446.9,1455.3 446.9,1477.1 447.7,1519.6 448.8,1562.1" fill="none" stroke="#2222b8" stroke-width="2.6" stroke-linejoin="round" stroke-linecap="round"/>
<path d="M369.1 1220.9v4.2M369.1 1645.8v-4.2M388.5 1220.9v4.2M388.5 1645.8v-4.2M407.9 1220.9v4.2M407.9 1645.8v-4.2M427.3 1220.9v4.2M427.3 1645.8v-4.2M446.7 1220.9v4.2M446.7 1645.8v-4.2M466.1 1220.9v4.2M466.1 1645.8v-4.2M485.5 1220.9v4.2M485.5 1645.8v-4.2M361.3 1263.6h4.2M504.9 1263.6h-4.2M361.3 1306.3h4.2M504.9 1306.3h-4.2M361.3 1349h4.2M504.9 1349h-4.2M361.3 1391.7h4.2M504.9 1391.7h-4.2M361.3 1434.4h4.2M504.9 1434.4h-4.2M361.3 1477.1h4.2M504.9 1477.1h-4.2M361.3 1519.8h4.2M504.9 1519.8h-4.2M361.3 1562.5h4.2M504.9 1562.5h-4.2M361.3 1605.2h4.2M504.9 1605.2h-4.2" stroke="#262626" stroke-width="1.3" fill="none"/>
<rect x="361.3" y="1220.9" width="143.6" height="424.9" stroke="#262626" stroke-width="1.3" fill="none"/>
<text transform="translate(369.1 1680.4) scale(0.97 1)" font-size="28.2" text-anchor="middle">-0.1</text>
<text transform="translate(446.7 1680.4) scale(0.97 1)" font-size="28.2" text-anchor="middle">0</text>
<path d="M556.8 1220.9V1645.8M586.9 1220.9V1645.8M616.9 1220.9V1645.8M647 1220.9V1645.8M677 1220.9V1645.8M707.1 1220.9V1645.8M737.1 1220.9V1645.8M767.2 1220.9V1645.8M544.8 1263.6H779.2M544.8 1306.3H779.2M544.8 1349H779.2M544.8 1391.7H779.2M544.8 1434.4H779.2M544.8 1477.1H779.2M544.8 1519.8H779.2M544.8 1562.5H779.2M544.8 1605.2H779.2" stroke="#d2d2d2" stroke-width="1.7" stroke-linecap="round" stroke-dasharray="0 8.87" fill="none"/>
<polygon points="615.6,1220.9 613.4,1229.3 615.6,1238.2 637.7,1251.5 693.1,1264.8 728.6,1278.1 722.0,1291.4 708.7,1306.4 755.2,1306.4 764.1,1291.4 772.9,1282.5 772.9,1273.6 759.6,1264.8 744.1,1255.9 726.4,1253.7 671.0,1244.8 642.2,1238.2 644.4,1229.3 646.6,1220.9" fill="#fab1b1" stroke="#fab1b1" stroke-width="4" stroke-linejoin="round" opacity="0.82"/>
<polygon points="584.5,1220.9 585.7,1229.3 595.6,1238.2 604.5,1247.0 622.2,1253.7 648.8,1260.3 675.4,1267.0 706.4,1273.6 726.4,1282.5 726.4,1291.4 726.4,1306.4 744.1,1306.4 750.8,1282.5 753.0,1271.4 746.3,1260.3 726.4,1251.5 693.1,1244.8 631.1,1238.2 613.4,1220.9" fill="#b3b3f7" stroke="#b3b3f7" stroke-width="4" stroke-linejoin="round" opacity="0.82"/>
<polyline points="648.8,1258.1 662.1,1262.5 675.4,1268.1 688.7,1273.6 697.6,1279.2 710.9,1282.5 722.0,1284.7" fill="none" stroke="#b3b3f7" stroke-width="5" stroke-linecap="round" stroke-dasharray="0.1 12" opacity="0.9"/>
<polyline points="653.2,1260.3 671.0,1263.7 684.3,1269.2 706.4,1275.8" fill="none" stroke="#fab1b1" stroke-width="5" stroke-linecap="round" stroke-dasharray="0.1 14" opacity="0.9"/>
<path d="M703.1 1316.8H748.5M696.5 1327.9H743.0M693.1 1337.9H733.0M688.7 1349.0H724.2M684.3 1360.1H718.6M683.2 1371.1H712.0M679.8 1381.1H708.7M677.6 1392.2H707.5M676.5 1402.2H703.1M675.4 1413.3H699.8M673.2 1424.3H696.5M673.2 1434.3H693.1M672.1 1434.4H692.0M671.0 1454.8H688.7M668.8 1477.0H687.6M668.8 1497.4H685.4M668.8 1519.5H683.2M663.2 1540.1H682.1M666.5 1562.3H679.8" stroke="#fab1b1" stroke-width="5" stroke-linecap="round" fill="none" opacity="0.88"/>
<path d="M712.0 1316.8H740.8M705.3 1327.9H735.3M702.0 1337.9H725.3M697.6 1349.0H716.4M693.1 1360.1H710.9M692.0 1371.1H704.2M688.7 1381.1H700.9M686.5 1392.2H699.8M685.4 1402.2H695.4M684.3 1413.3H692.0M682.1 1424.3H688.7M682.1 1434.3H685.4M678.7 1434.4H692.0M677.6 1454.8H688.7M675.4 1477.0H687.6M675.4 1497.4H685.4M675.4 1519.5H683.2M669.9 1540.1H682.1M673.2 1562.3H679.8" stroke="#b3b3f7" stroke-width="5" stroke-linecap="round" fill="none" opacity="0.88"/>
<circle cx="695.4" cy="1477.0" r="2.5" fill="#fab1b1" opacity="0.9"/><circle cx="627.8" cy="1562.3" r="2.5" fill="#fab1b1" opacity="0.9"/>
<polyline points="606.7,1220.9 604.5,1229.3 611.1,1238.2 631.1,1247.0 671.0,1255.9 710.9,1262.5 733.0,1269.2 737.5,1278.1 733.0,1291.4 724.2,1306.4 706.4,1326.8 695.4,1349.0 688.7,1371.1 682.1,1391.8 677.6,1415.5 674.3,1434.3 673.6,1454.8 672.8,1497.4 671.0,1540.1 669.9,1562.3" fill="none" stroke="#ff0000" stroke-width="1.8" stroke-linejoin="round" stroke-linecap="round"/>
<polyline points="635.5,1220.9 631.1,1229.3 637.7,1240.4 679.8,1247.0 726.4,1255.9 746.3,1262.5 756.3,1269.2 757.4,1278.1 750.8,1291.4 739.7,1306.4 722.0,1326.8 713.1,1349.0 704.2,1371.1 697.6,1391.8 690.9,1415.5 684.3,1434.3 681.0,1454.8 678.7,1497.4 676.5,1540.1 674.3,1562.3" fill="none" stroke="#ff0000" stroke-width="1.8" stroke-linejoin="round" stroke-linecap="round"/>
<polyline points="591.2,1220.9 593.4,1229.3 600.1,1238.2 620.0,1247.0 662.1,1255.9 706.4,1262.5 730.8,1271.4 733.0,1282.5 719.7,1306.4 710.9,1326.8 703.1,1349.0 692.0,1391.8 683.2,1434.3" fill="none" stroke="#2222b8" stroke-width="1.4" stroke-linejoin="round" stroke-linecap="round"/>
<polyline points="608.9,1220.9 613.4,1229.3 624.4,1238.2 633.3,1242.6 688.7,1251.5 730.8,1260.3 748.5,1267.0 750.8,1275.8 744.1,1291.4 733.0,1306.4 719.7,1326.8 713.1,1349.0 697.6,1391.8 686.5,1434.3" fill="none" stroke="#2222b8" stroke-width="1.4" stroke-linejoin="round" stroke-linecap="round"/>
<polyline points="604.5,1220.9 606.7,1229.3 613.4,1238.2 631.1,1247.0 671.0,1253.7 715.3,1260.3 741.9,1267.0 746.3,1275.8 739.7,1286.9 728.6,1306.4 715.3,1326.8 708.7,1349.0 699.8,1371.1 694.2,1391.8 688.7,1415.5 685.4,1434.3 685.4,1434.4 683.2,1454.8 681.0,1477.0 679.4,1497.4 678.1,1519.5 677.2,1540.1 676.5,1562.3" fill="none" stroke="#2222b8" stroke-width="2.6" stroke-linejoin="round" stroke-linecap="round"/>
<polyline points="622.2,1220.9 617.8,1229.3 622.2,1238.2 637.7,1244.8 682.1,1251.5 726.4,1258.1 746.3,1264.8 750.8,1271.4 748.5,1280.3 741.9,1291.4 733.0,1306.4 715.3,1326.8 706.4,1349.0 697.6,1371.1 690.9,1391.8 685.4,1415.5 679.8,1434.3 677.6,1434.4 676.5,1454.8 675.4,1477.0 674.3,1497.4 673.2,1519.5 672.1,1540.1 671.0,1562.3" fill="none" stroke="#ff0000" stroke-width="3.0" stroke-linejoin="round" stroke-linecap="round"/>
<path d="M556.8 1220.9v4.2M556.8 1645.8v-4.2M586.9 1220.9v4.2M586.9 1645.8v-4.2M616.9 1220.9v4.2M616.9 1645.8v-4.2M647 1220.9v4.2M647 1645.8v-4.2M677 1220.9v4.2M677 1645.8v-4.2M707.1 1220.9v4.2M707.1 1645.8v-4.2M737.1 1220.9v4.2M737.1 1645.8v-4.2M767.2 1220.9v4.2M767.2 1645.8v-4.2M544.8 1263.6h4.2M779.2 1263.6h-4.2M544.8 1306.3h4.2M779.2 1306.3h-4.2M544.8 1349h4.2M779.2 1349h-4.2M544.8 1391.7h4.2M779.2 1391.7h-4.2M544.8 1434.4h4.2M779.2 1434.4h-4.2M544.8 1477.1h4.2M779.2 1477.1h-4.2M544.8 1519.8h4.2M779.2 1519.8h-4.2M544.8 1562.5h4.2M779.2 1562.5h-4.2M544.8 1605.2h4.2M779.2 1605.2h-4.2" stroke="#262626" stroke-width="1.3" fill="none"/>
<rect x="544.8" y="1220.9" width="234.4" height="424.9" stroke="#262626" stroke-width="1.3" fill="none"/>
<text transform="translate(556.8 1680.4) scale(0.97 1)" font-size="28.2" text-anchor="middle">350</text>
<text transform="translate(616.9 1680.4) scale(0.97 1)" font-size="28.2" text-anchor="middle">450</text>
<text transform="translate(677 1680.4) scale(0.97 1)" font-size="28.2" text-anchor="middle">550</text>
<text transform="translate(737.1 1680.4) scale(0.97 1)" font-size="28.2" text-anchor="middle">650</text>
<path d="M801.6 1220.9V1645.8M820.3 1220.9V1645.8M838.9 1220.9V1645.8M857.6 1220.9V1645.8M876.2 1220.9V1645.8M894.8 1220.9V1645.8M913.5 1220.9V1645.8M932.1 1220.9V1645.8M792.3 1263.6H936.8M792.3 1306.3H936.8M792.3 1349H936.8M792.3 1391.7H936.8M792.3 1434.4H936.8M792.3 1477.1H936.8M792.3 1519.8H936.8M792.3 1562.5H936.8M792.3 1605.2H936.8" stroke="#d2d2d2" stroke-width="1.7" stroke-linecap="round" stroke-dasharray="0 8.87" fill="none"/>
<polygon points="835.8,1238.6 832.0,1246.1 825.2,1253.7 824.5,1261.2 825.2,1276.3 827.5,1300.4 833.5,1300.4 831.2,1276.3 830.5,1261.2 831.2,1253.7 838.0,1246.1 841.8,1238.6" fill="#c8c8c8" stroke="#c8c8c8" stroke-width="4" stroke-linejoin="round" opacity="0.82"/>
<polygon points="873.4,1238.6 877.2,1246.1 884.0,1253.7 884.7,1261.2 883.2,1276.3 881.7,1300.4 887.8,1300.4 889.3,1276.3 890.8,1261.2 890.0,1253.7 883.2,1246.1 879.5,1238.6" fill="#c8c8c8" stroke="#c8c8c8" stroke-width="4" stroke-linejoin="round" opacity="0.82"/>
<polygon points="796.6,1221.3 807.1,1231.1 819.2,1246.1 822.2,1261.2 813.2,1268.8 810.1,1279.3 817.7,1288.3 822.2,1297.4 823.7,1306.4 876.5,1306.4 876.5,1276.3 878.0,1261.2 885.5,1253.7 897.6,1246.1 888.5,1243.1 867.4,1231.1 859.9,1221.3" fill="#b3b3f7" stroke="#b3b3f7" stroke-width="4" stroke-linejoin="round" opacity="0.82"/>
<circle cx="900.6" cy="1252.2" r="3.0" fill="#b3b3f7" opacity="0.9"/><circle cx="909.6" cy="1250.7" r="3.0" fill="#b3b3f7" opacity="0.9"/><circle cx="922.4" cy="1255.2" r="3.0" fill="#b3b3f7" opacity="0.9"/><circle cx="928.5" cy="1248.4" r="3.0" fill="#b3b3f7" opacity="0.9"/>
<path d="M823.7 1317.0H876.5M826.0 1327.5H878.7M844.8 1338.1H878.0M833.5 1349.4H879.5M838.8 1359.9H880.2M840.3 1370.5H880.2M841.0 1381.0H881.0M852.3 1391.5H878.0M852.3 1402.4H878.0M853.1 1412.9H878.7M855.4 1424.2H878.7M859.9 1434.0H878.0M854.6 1455.1H875.7M859.1 1476.7H874.2M858.4 1498.1H872.7M859.1 1519.5H871.9M858.4 1498.1H872.7M858.4 1519.6H871.9M858.4 1540.7H878.0M858.4 1562.1H871.2" stroke="#b3b3f7" stroke-width="5" stroke-linecap="round" fill="none" opacity="0.88"/>
<circle cx="840.3" cy="1391.5" r="2.5" fill="#b3b3f7" opacity="0.9"/><circle cx="841.8" cy="1402.4" r="2.5" fill="#b3b3f7" opacity="0.9"/><circle cx="844.8" cy="1412.9" r="2.5" fill="#b3b3f7" opacity="0.9"/><circle cx="847.1" cy="1424.2" r="2.5" fill="#b3b3f7" opacity="0.9"/><circle cx="835.8" cy="1476.7" r="2.5" fill="#b3b3f7" opacity="0.9"/>
<path d="M857.6 1220.9V1645.8" stroke="#262626" stroke-width="1.5" stroke-dasharray="5.8 3.5 5.5 3.5 1.5 15.6" stroke-dashoffset="-4" fill="none"/>
<polyline points="838.8,1221.3 838.8,1238.6 833.9,1246.1 826.4,1253.7 825.7,1261.2 827.3,1276.3 830.5,1306.4" fill="none" stroke="#000000" stroke-width="1.2" stroke-linejoin="round" stroke-linecap="round"/>
<polyline points="876.5,1221.3 876.5,1238.6 881.3,1246.1 888.8,1253.7 889.6,1261.2 887.2,1276.3 884.7,1306.4" fill="none" stroke="#000000" stroke-width="1.2" stroke-linejoin="round" stroke-linecap="round"/>
<polyline points="838.8,1221.3 838.8,1238.6 834.6,1246.1 827.5,1253.7 826.7,1261.2 827.9,1276.3 830.5,1306.4" fill="none" stroke="#000000" stroke-width="1.2" stroke-linejoin="round" stroke-linecap="round"/>
<polyline points="876.5,1221.3 876.5,1238.6 880.7,1246.1 887.8,1253.7 888.5,1261.2 886.6,1276.3 884.7,1306.4" fill="none" stroke="#000000" stroke-width="1.2" stroke-linejoin="round" stroke-linecap="round"/>
<polyline points="838.8,1221.3 838.8,1238.6 835.6,1246.1 829.1,1253.7 828.4,1261.2 828.7,1276.3 830.5,1306.4" fill="none" stroke="#000000" stroke-width="1.2" stroke-linejoin="round" stroke-linecap="round"/>
<polyline points="876.5,1221.3 876.5,1238.6 879.7,1246.1 886.1,1253.7 886.9,1261.2 885.8,1276.3 884.7,1306.4" fill="none" stroke="#000000" stroke-width="1.2" stroke-linejoin="round" stroke-linecap="round"/>
<polyline points="838.8,1221.3 838.8,1238.6 836.1,1246.1 830.0,1253.7 829.3,1261.2 829.1,1276.3 830.5,1306.4" fill="none" stroke="#000000" stroke-width="1.2" stroke-linejoin="round" stroke-linecap="round"/>
<polyline points="876.5,1221.3 876.5,1238.6 879.1,1246.1 885.2,1253.7 886.0,1261.2 885.4,1276.3 884.7,1306.4" fill="none" stroke="#000000" stroke-width="1.2" stroke-linejoin="round" stroke-linecap="round"/>
<polyline points="838.8,1221.3 838.8,1238.6 835.0,1246.1 828.2,1253.7 827.5,1261.2 828.2,1276.3 830.5,1306.4 830.5,1349.4 831.2,1386.0 829.7,1434.0 830.5,1476.7 832.0,1546.0 832.4,1562.1" fill="none" stroke="#000000" stroke-width="3.0" stroke-linejoin="round" stroke-linecap="round"/>
<polyline points="876.5,1221.3 876.5,1238.6 880.2,1246.1 887.0,1253.7 887.8,1261.2 886.3,1276.3 884.7,1306.4 884.0,1349.4 884.0,1386.0 884.0,1434.0 884.0,1476.7 883.2,1546.0 882.5,1562.1" fill="none" stroke="#000000" stroke-width="3.0" stroke-linejoin="round" stroke-linecap="round"/>
<polyline points="804.9,1221.3 814.7,1228.1 820.7,1235.6 829.7,1243.1 838.8,1253.7 840.3,1261.2 838.8,1268.8 841.8,1283.8 848.6,1306.4 850.8,1321.5 853.9,1336.6 856.1,1349.4 857.6,1366.7 859.9,1386.0 858.4,1413.7 861.4,1425.7 863.6,1434.0 863.6,1476.7 863.6,1546.0 863.6,1562.1" fill="none" stroke="#2222b8" stroke-width="1.4" stroke-linejoin="round" stroke-linecap="round"/>
<polyline points="843.3,1221.3 849.3,1228.1 858.4,1238.6 870.4,1243.1 876.5,1246.1 884.0,1252.2 870.4,1258.2 864.4,1264.2 859.9,1268.8 862.9,1283.8 867.4,1306.4 870.4,1321.5 872.7,1336.6 873.4,1349.4 875.0,1366.7 875.7,1386.0 876.5,1391.1 874.2,1413.7 873.4,1425.7 874.2,1434.0 871.9,1455.9 869.7,1476.7 867.4,1519.5 866.7,1546.0 865.9,1562.1" fill="none" stroke="#2222b8" stroke-width="1.4" stroke-linejoin="round" stroke-linecap="round"/>
<polyline points="828.2,1221.3 838.8,1228.1 844.8,1238.6 847.8,1246.1 852.3,1253.7 853.9,1261.2 849.3,1268.8 850.8,1276.3 853.9,1291.4 856.9,1306.4 859.9,1321.5 863.6,1336.6 865.2,1349.4 867.4,1366.7 868.2,1386.0 868.2,1391.1 867.4,1413.7 866.7,1434.0 865.9,1455.9 865.2,1476.7 865.2,1519.5 865.2,1546.0 864.4,1562.1" fill="none" stroke="#2222b8" stroke-width="2.6" stroke-linejoin="round" stroke-linecap="round"/>
<path d="M801.6 1220.9v4.2M801.6 1645.8v-4.2M820.3 1220.9v4.2M820.3 1645.8v-4.2M838.9 1220.9v4.2M838.9 1645.8v-4.2M857.6 1220.9v4.2M857.6 1645.8v-4.2M876.2 1220.9v4.2M876.2 1645.8v-4.2M894.8 1220.9v4.2M894.8 1645.8v-4.2M913.5 1220.9v4.2M913.5 1645.8v-4.2M932.1 1220.9v4.2M932.1 1645.8v-4.2M792.3 1263.6h4.2M936.8 1263.6h-4.2M792.3 1306.3h4.2M936.8 1306.3h-4.2M792.3 1349h4.2M936.8 1349h-4.2M792.3 1391.7h4.2M936.8 1391.7h-4.2M792.3 1434.4h4.2M936.8 1434.4h-4.2M792.3 1477.1h4.2M936.8 1477.1h-4.2M792.3 1519.8h4.2M936.8 1519.8h-4.2M792.3 1562.5h4.2M936.8 1562.5h-4.2M792.3 1605.2h4.2M936.8 1605.2h-4.2" stroke="#262626" stroke-width="1.3" fill="none"/>
<rect x="792.3" y="1220.9" width="144.5" height="424.9" stroke="#262626" stroke-width="1.3" fill="none"/>
<text transform="translate(820.3 1680.4) scale(0.97 1)" font-size="28.2" text-anchor="middle">-40</text>
<text transform="translate(857.6 1680.4) scale(0.97 1)" font-size="28.2" text-anchor="middle">0</text>
<text transform="translate(894.8 1680.4) scale(0.97 1)" font-size="28.2" text-anchor="middle">40</text>
<text transform="translate(932.1 1680.4) scale(0.97 1)" font-size="28.2" text-anchor="middle">80</text>
<path d="M985.4 1220.9V1645.8M1010.3 1220.9V1645.8M1035.1 1220.9V1645.8M1059.9 1220.9V1645.8M1084.7 1220.9V1645.8M1109.6 1220.9V1645.8M975.5 1263.6H1119.5M975.5 1306.3H1119.5M975.5 1349H1119.5M975.5 1391.7H1119.5M975.5 1434.4H1119.5M975.5 1477.1H1119.5M975.5 1519.8H1119.5M975.5 1562.5H1119.5M975.5 1605.2H1119.5" stroke="#d2d2d2" stroke-width="1.7" stroke-linecap="round" stroke-dasharray="0 8.87" fill="none"/>
<polygon points="976.6,1221.1 978.0,1237.7 986.7,1244.9 1001.1,1253.6 1012.7,1257.9 1030.0,1263.7 1051.7,1270.9 1058.9,1281.0 1070.5,1295.5 1076.3,1306.3 1081.3,1317.2 1082.8,1325.8 1086.4,1325.8 1086.4,1317.2 1084.9,1306.3 1083.5,1288.3 1079.2,1276.7 1074.8,1266.6 1066.2,1259.4 1054.6,1252.1 1037.3,1244.9 1030.0,1239.1 1030.0,1221.1" fill="#fab1b1" stroke="#fab1b1" stroke-width="4" stroke-linejoin="round" opacity="0.82"/>
<path d="M1084.7 1220.9V1645.8" stroke="#262626" stroke-width="1.5" stroke-dasharray="5.8 3.5 5.5 3.5 1.5 15.6" stroke-dashoffset="-4" fill="none"/>
<polyline points="983.1,1221.1 983.8,1230.5 986.7,1239.1 993.9,1246.3 1012.7,1252.1 1030.0,1257.9 1045.9,1263.7 1060.4,1270.9 1069.0,1281.0 1076.3,1295.5 1079.9,1306.3" fill="none" stroke="#ff0000" stroke-width="1.8" stroke-linejoin="round" stroke-linecap="round"/>
<polyline points="1015.6,1221.1 1017.0,1230.5 1019.9,1242.0 1030.0,1247.8 1043.0,1253.6 1054.6,1259.4 1063.3,1265.1 1070.5,1273.8 1077.0,1288.3 1081.3,1306.3" fill="none" stroke="#ff0000" stroke-width="1.8" stroke-linejoin="round" stroke-linecap="round"/>
<polyline points="999.0,1221.1 999.0,1230.5 1001.1,1237.7 1006.9,1242.0 1019.9,1247.8 1034.4,1253.6 1047.4,1259.4 1056.0,1263.7 1069.0,1273.8 1076.3,1288.3 1080.6,1306.3 1083.5,1331.6 1084.2,1348.9 1085.7,1379.0 1085.7,1434.3 1084.9,1476.9 1084.2,1533.0 1084.2,1562.9" fill="none" stroke="#ff0000" stroke-width="3.0" stroke-linejoin="round" stroke-linecap="round"/>
<path d="M985.4 1220.9v4.2M985.4 1645.8v-4.2M1010.3 1220.9v4.2M1010.3 1645.8v-4.2M1035.1 1220.9v4.2M1035.1 1645.8v-4.2M1059.9 1220.9v4.2M1059.9 1645.8v-4.2M1084.7 1220.9v4.2M1084.7 1645.8v-4.2M1109.6 1220.9v4.2M1109.6 1645.8v-4.2M975.5 1263.6h4.2M1119.5 1263.6h-4.2M975.5 1306.3h4.2M1119.5 1306.3h-4.2M975.5 1349h4.2M1119.5 1349h-4.2M975.5 1391.7h4.2M1119.5 1391.7h-4.2M975.5 1434.4h4.2M1119.5 1434.4h-4.2M975.5 1477.1h4.2M1119.5 1477.1h-4.2M975.5 1519.8h4.2M1119.5 1519.8h-4.2M975.5 1562.5h4.2M1119.5 1562.5h-4.2M975.5 1605.2h4.2M1119.5 1605.2h-4.2" stroke="#262626" stroke-width="1.3" fill="none"/>
<rect x="975.5" y="1220.9" width="144" height="424.9" stroke="#262626" stroke-width="1.3" fill="none"/>
<text transform="translate(985.4 1680.4) scale(0.97 1)" font-size="28.2" text-anchor="middle">-1</text>
<text transform="translate(1035.1 1680.4) scale(0.97 1)" font-size="28.2" text-anchor="middle">-0.5</text>
<text transform="translate(1084.7 1680.4) scale(0.97 1)" font-size="28.2" text-anchor="middle">0</text>
<text transform="translate(102.3 1230.2) scale(0.97 1)" font-size="28.2" text-anchor="end">0</text>
<text transform="translate(102.3 1272.9) scale(0.97 1)" font-size="28.2" text-anchor="end">200</text>
<text transform="translate(102.3 1315.6) scale(0.97 1)" font-size="28.2" text-anchor="end">400</text>
<text transform="translate(102.3 1358.3) scale(0.97 1)" font-size="28.2" text-anchor="end">600</text>
<text transform="translate(102.3 1401) scale(0.97 1)" font-size="28.2" text-anchor="end">800</text>
<text transform="translate(102.3 1443.7) scale(0.97 1)" font-size="28.2" text-anchor="end">1000</text>
<text transform="translate(102.3 1486.4) scale(0.97 1)" font-size="28.2" text-anchor="end">1200</text>
<text transform="translate(102.3 1529.1) scale(0.97 1)" font-size="28.2" text-anchor="end">1400</text>
<text transform="translate(102.3 1571.8) scale(0.97 1)" font-size="28.2" text-anchor="end">1600</text>
<text transform="translate(102.3 1614.5) scale(0.97 1)" font-size="28.2" text-anchor="end">1800</text>
<text transform="translate(25.5 1433.3) rotate(-90)" font-size="28.5" text-anchor="middle">pressure / dbar</text>
<text x="230.8" y="1712.1" font-size="28.5" text-anchor="middle">pH<tspan font-size="21.5" dy="12.8">in-situ</tspan></text>
<text x="433.1" y="1712.1" font-size="28.5" text-anchor="middle">ΔpH<tspan font-size="21.5" dy="12.8">in-situ</tspan></text>
<text x="662" y="1712.1" font-size="28.5" text-anchor="middle"><tspan font-style="italic">p</tspan>CO<tspan font-size="21.5" dy="12.8">2</tspan><tspan dy="-13"> / </tspan><tspan font-style="italic">μ</tspan>atm</text>
<text x="863.5" y="1712.1" font-size="28.5" letter-spacing="0.9" text-anchor="middle">Δ<tspan font-style="italic">p</tspan>CO<tspan font-size="21.5" dy="12.8">2</tspan><tspan dy="-13"> / </tspan><tspan font-style="italic">μ</tspan>atm</text>
<text x="1043" y="1712.1" font-size="28.5" text-anchor="middle">S - S<tspan font-size="21.5" dy="12.8">1500 dbar</tspan></text>
<path d="M124 1598.8h66.5" stroke="#ff0000" stroke-width="2.6"/>
<path d="M124 1626.5h66.5" stroke="#2424b4" stroke-width="2"/>
<text x="197.5" y="1606.8" font-size="26">pH Sensor</text>
<text x="197.5" y="1634.3" font-size="26">CONTENT</text>
<path d="M555.3 1598.8h66.5" stroke="#ff0000" stroke-width="2.6"/>
<path d="M555.3 1626.5h66.5" stroke="#2424b4" stroke-width="2"/>
<text x="628.8" y="1606.8" font-size="26">Williams 2017</text>
<text x="628.8" y="1634.3" font-size="26">CONTENT</text>
<path d="M373.8 1601.3h66.5" stroke="#2424b4" stroke-width="2"/>
<path d="M373.8 1628.5h66.5" stroke="#000" stroke-width="2.6"/>
<path d="M449.2 1606.9L457 1591.9L464.9 1606.9Z" fill="none" stroke="#000" stroke-width="1.7" stroke-linejoin="miter"/>
<text x="447.3" y="1634.3" font-size="26" style="font-family:Liberation Serif,serif;font-style:italic">σ</text>
<path d="M804.8 1601.3h66.5" stroke="#2424b4" stroke-width="2"/>
<path d="M804.8 1628.5h66.5" stroke="#000" stroke-width="2.6"/>
<path d="M880.2 1606.9L888 1591.9L895.9 1606.9Z" fill="none" stroke="#000" stroke-width="1.7" stroke-linejoin="miter"/>
<text x="878.3" y="1634.3" font-size="26" style="font-family:Liberation Serif,serif;font-style:italic">σ</text>
<text x="323.3" y="1795.9" font-size="28.7">WMO 5904468 - Atlantic Seasonal Sea Ice Zone</text>
<path d="M149.6 1812.6V2232.8M182.7 1812.6V2232.8M215.8 1812.6V2232.8M249 1812.6V2232.8M282.1 1812.6V2232.8M315.2 1812.6V2232.8M116.5 1854.8H348.3M116.5 1897.1H348.3M116.5 1939.3H348.3M116.5 1981.5H348.3M116.5 2023.8H348.3M116.5 2066H348.3M116.5 2108.2H348.3M116.5 2150.4H348.3M116.5 2192.7H348.3" stroke="#d2d2d2" stroke-width="1.7" stroke-linecap="round" stroke-dasharray="0 8.87" fill="none"/>
<polygon points="220.6,1812.8 220.6,1818.8 182.3,1825.1 180.2,1837.9 180.2,1869.8 181.3,1897.1 195.1,1897.1 216.4,1848.6 258.9,1835.8 312.1,1827.3 339.8,1823.0 348.3,1818.8 348.3,1812.8" fill="#fab1b1" stroke="#fab1b1" stroke-width="4" stroke-linejoin="round" opacity="0.82"/>
<polygon points="237.7,1812.8 184.5,1825.1 184.5,1897.1 206.8,1897.1 208.9,1869.8 210.0,1854.9 216.4,1848.6 241.9,1844.3 263.2,1837.9 284.5,1827.3 333.4,1818.8 348.3,1812.8" fill="#b3b3f7" stroke="#b3b3f7" stroke-width="4" stroke-linejoin="round" opacity="0.82"/>
<circle cx="153.6" cy="1884.7" r="2.5" fill="#fab1b1" opacity="0.9"/>
<path d="M180.2 1908.1H188.7M180.2 1918.1H188.7M179.1 1928.8H187.7M178.1 1939.4H186.6M178.1 1950.0H186.6M177.0 1960.7H185.5M177.0 1971.3H185.5M177.0 1981.5H185.5M172.8 1992.2H181.3M173.8 2002.8H182.3M173.8 2013.4H182.3M172.8 2024.1H181.3M171.7 2044.7H180.2M169.6 2066.0H178.1M168.5 2087.3H177.0M168.5 2108.1H177.0M168.5 2129.4H177.0M168.5 2150.0H177.0M168.5 2171.3H177.0" stroke="#fab1b1" stroke-width="5" stroke-linecap="round" fill="none" opacity="0.88"/>
<path d="M188.7 1908.1H205.7M188.7 1918.1H204.7M187.7 1928.8H204.7M186.6 1939.4H203.6M186.6 1950.0H203.6M185.5 1960.7H202.6M185.5 1971.3H202.6M185.5 1981.5H202.6M181.3 1992.2H201.5M182.3 2002.8H200.4M182.3 2013.4H200.4M181.3 2024.1H199.4M180.2 2044.7H198.3M178.1 2066.0H197.2M177.0 2087.3H195.1M177.0 2108.1H194.0M177.0 2129.4H191.9M177.0 2150.0H189.8M177.0 2171.3H187.7" stroke="#b3b3f7" stroke-width="5" stroke-linecap="round" fill="none" opacity="0.88"/>
<polyline points="237.7,1812.8 239.8,1818.8 231.3,1823.0 212.1,1827.3 190.9,1833.7 186.6,1837.9 185.5,1848.6 184.5,1869.8 183.4,1897.1 182.3,1923.0 181.3,1939.4 180.2,1981.5 178.1,2024.1 174.9,2066.0 173.8,2108.1 172.8,2171.3" fill="none" stroke="#ff0000" stroke-width="1.8" stroke-linejoin="round" stroke-linecap="round"/>
<polyline points="330.2,1812.8 322.8,1818.8 301.5,1823.0 271.7,1827.3 237.7,1837.9 216.4,1844.3 201.5,1854.9 198.3,1869.8 195.1,1897.1 191.9,1923.0 190.9,1939.4 188.7,1981.5 187.7,2024.1 186.2,2066.0 184.5,2108.1 182.3,2171.3" fill="none" stroke="#ff0000" stroke-width="1.8" stroke-linejoin="round" stroke-linecap="round"/>
<polyline points="254.7,1812.8 246.2,1818.8 220.6,1827.3 189.8,1837.9 188.7,1848.6 189.8,1869.8 188.7,1897.1 186.6,1939.4 185.5,1981.5 184.5,2024.1 182.3,2066.0 178.1,2108.1 171.7,2171.3" fill="none" stroke="#2222b8" stroke-width="1.4" stroke-linejoin="round" stroke-linecap="round"/>
<polyline points="299.4,1812.8 290.9,1818.8 271.7,1827.3 248.3,1837.9 212.1,1848.6 207.9,1854.9 205.7,1869.8 203.6,1897.1 199.4,1939.4 197.2,1981.5 194.0,2024.1 191.9,2066.0 187.7,2108.1 181.3,2171.3" fill="none" stroke="#2222b8" stroke-width="1.4" stroke-linejoin="round" stroke-linecap="round"/>
<polyline points="276.0,1812.8 258.9,1818.8 235.5,1827.3 212.1,1837.9 199.4,1848.6 196.2,1854.9 194.0,1869.8 191.9,1897.1 189.8,1939.4 187.7,1981.5 186.6,2024.1 183.4,2066.0 181.3,2108.1 178.1,2150.0 176.0,2171.3" fill="none" stroke="#2222b8" stroke-width="2.6" stroke-linejoin="round" stroke-linecap="round"/>
<polyline points="288.7,1812.8 276.0,1815.6 258.9,1818.8 248.3,1823.0 229.1,1831.5 210.0,1837.9 201.5,1844.3 195.1,1854.9 193.0,1869.8 189.8,1897.1 187.7,1923.0 186.6,1939.4 185.5,1960.3 185.5,1981.5 184.5,2002.8 184.5,2024.1 182.3,2066.0 180.2,2108.1 178.5,2150.0 177.7,2171.3" fill="none" stroke="#ff0000" stroke-width="3.0" stroke-linejoin="round" stroke-linecap="round"/>
<path d="M149.6 1812.6v4.2M149.6 2232.8v-4.2M182.7 1812.6v4.2M182.7 2232.8v-4.2M215.8 1812.6v4.2M215.8 2232.8v-4.2M249 1812.6v4.2M249 2232.8v-4.2M282.1 1812.6v4.2M282.1 2232.8v-4.2M315.2 1812.6v4.2M315.2 2232.8v-4.2M116.5 1854.8h4.2M348.3 1854.8h-4.2M116.5 1897.1h4.2M348.3 1897.1h-4.2M116.5 1939.3h4.2M348.3 1939.3h-4.2M116.5 1981.5h4.2M348.3 1981.5h-4.2M116.5 2023.8h4.2M348.3 2023.8h-4.2M116.5 2066h4.2M348.3 2066h-4.2M116.5 2108.2h4.2M348.3 2108.2h-4.2M116.5 2150.4h4.2M348.3 2150.4h-4.2M116.5 2192.7h4.2M348.3 2192.7h-4.2" stroke="#262626" stroke-width="1.3" fill="none"/>
<rect x="116.5" y="1812.6" width="231.8" height="420.2" stroke="#262626" stroke-width="1.3" fill="none"/>
<text transform="translate(116.5 2267.4) scale(0.97 1)" font-size="28.2" text-anchor="middle">7.8</text>
<text transform="translate(182.7 2267.4) scale(0.97 1)" font-size="28.2" text-anchor="middle">7.9</text>
<text transform="translate(249 2267.4) scale(0.97 1)" font-size="28.2" text-anchor="middle">8</text>
<text transform="translate(315.2 2267.4) scale(0.97 1)" font-size="28.2" text-anchor="middle">8.1</text>
<path d="M369.3 1812.6V2232.8M388.5 1812.6V2232.8M407.7 1812.6V2232.8M426.8 1812.6V2232.8M446 1812.6V2232.8M465.2 1812.6V2232.8M484.4 1812.6V2232.8M361.6 1854.8H503.6M361.6 1897.1H503.6M361.6 1939.3H503.6M361.6 1981.5H503.6M361.6 2023.8H503.6M361.6 2066H503.6M361.6 2108.2H503.6M361.6 2150.4H503.6M361.6 2192.7H503.6" stroke="#d2d2d2" stroke-width="1.7" stroke-linecap="round" stroke-dasharray="0 8.87" fill="none"/>
<polygon points="423.9,1812.8 423.9,1835.3 426.8,1854.8 432.6,1854.8 432.6,1812.8" fill="#c8c8c8" stroke="#c8c8c8" stroke-width="4" stroke-linejoin="round" opacity="0.82"/>
<polygon points="459.0,1812.8 459.4,1841.1 464.8,1841.1 467.8,1825.5 468.7,1812.8" fill="#c8c8c8" stroke="#c8c8c8" stroke-width="4" stroke-linejoin="round" opacity="0.82"/>
<polygon points="363.4,1812.8 365.4,1819.7 388.8,1823.6 414.1,1829.4 425.8,1837.2 433.6,1845.0 439.5,1864.5 441.4,1897.1 459.0,1897.1 464.8,1845.0 468.7,1829.4 480.4,1817.7 482.4,1812.8" fill="#b3b3f7" stroke="#b3b3f7" stroke-width="4" stroke-linejoin="round" opacity="0.82"/>
<circle cx="488.2" cy="1884.6" r="3.0" fill="#b3b3f7" opacity="0.9"/><circle cx="502.9" cy="1820.6" r="3.0" fill="#b3b3f7" opacity="0.9"/>
<path d="M442.4 1907.4H460.0M442.4 1918.2H459.0M442.4 1928.9H459.0M441.4 1939.2H459.0M442.4 1950.3H459.0M442.4 1961.1H458.0M443.4 1971.8H458.0M444.3 1981.5H458.0M444.3 1992.3H458.0M444.3 2003.0H458.0M444.3 2013.7H457.0M442.4 2023.8H458.0M441.4 2045.3H464.8M440.4 2065.7H460.9M439.5 2087.2H459.0M437.5 2108.1H457.0M435.6 2129.1H456.1M434.6 2150.2H455.1M433.6 2171.6H455.1" stroke="#b3b3f7" stroke-width="5" stroke-linecap="round" fill="none" opacity="0.88"/>
<path d="M446.0 1812.6V2232.8" stroke="#262626" stroke-width="1.5" stroke-dasharray="5.8 3.5 5.5 3.5 1.5 15.6" stroke-dashoffset="-4" fill="none"/>
<polyline points="428.7,1812.8 428.2,1845.0 429.3,1897.1 430.1,1942.5 429.7,2001.0 429.7,2023.8 429.7,2171.6" fill="none" stroke="#000000" stroke-width="3.0" stroke-linejoin="round" stroke-linecap="round"/>
<polyline points="463.3,1812.8 463.9,1845.0 462.9,1897.1 462.5,1942.5 461.9,2001.0 461.9,2023.8 462.5,2171.6" fill="none" stroke="#000000" stroke-width="3.0" stroke-linejoin="round" stroke-linecap="round"/>
<polyline points="402.4,1812.8 400.5,1817.7 410.2,1821.6 427.8,1825.5 437.5,1827.5 441.4,1831.4 442.4,1839.2 447.3,1845.0 448.3,1864.5 449.2,1897.1 449.2,1942.5 448.3,2001.0 446.3,2023.8 444.3,2065.7 440.4,2108.1 435.6,2171.6" fill="none" stroke="#2222b8" stroke-width="1.4" stroke-linejoin="round" stroke-linecap="round"/>
<polyline points="472.6,1812.8 470.7,1817.7 464.8,1825.5 459.0,1835.3 456.1,1845.0 456.1,1864.5 457.0,1897.1 458.0,1942.5 457.0,2001.0 457.6,2023.8 456.1,2065.7 454.1,2108.1 451.2,2171.6" fill="none" stroke="#2222b8" stroke-width="1.4" stroke-linejoin="round" stroke-linecap="round"/>
<polyline points="441.4,1814.8 462.9,1814.8 462.9,1817.7 452.2,1829.4 449.2,1845.0 450.2,1864.5 451.2,1897.1 452.2,1942.5 452.2,2001.0 451.6,2023.8 450.2,2065.7 447.3,2108.1 444.3,2150.2 442.4,2171.6" fill="none" stroke="#2222b8" stroke-width="2.6" stroke-linejoin="round" stroke-linecap="round"/>
<path d="M369.3 1812.6v4.2M369.3 2232.8v-4.2M388.5 1812.6v4.2M388.5 2232.8v-4.2M407.7 1812.6v4.2M407.7 2232.8v-4.2M426.8 1812.6v4.2M426.8 2232.8v-4.2M446 1812.6v4.2M446 2232.8v-4.2M465.2 1812.6v4.2M465.2 2232.8v-4.2M484.4 1812.6v4.2M484.4 2232.8v-4.2M361.6 1854.8h4.2M503.6 1854.8h-4.2M361.6 1897.1h4.2M503.6 1897.1h-4.2M361.6 1939.3h4.2M503.6 1939.3h-4.2M361.6 1981.5h4.2M503.6 1981.5h-4.2M361.6 2023.8h4.2M503.6 2023.8h-4.2M361.6 2066h4.2M503.6 2066h-4.2M361.6 2108.2h4.2M503.6 2108.2h-4.2M361.6 2150.4h4.2M503.6 2150.4h-4.2M361.6 2192.7h4.2M503.6 2192.7h-4.2" stroke="#262626" stroke-width="1.3" fill="none"/>
<rect x="361.6" y="1812.6" width="142" height="420.2" stroke="#262626" stroke-width="1.3" fill="none"/>
<text transform="translate(369.3 2267.4) scale(0.97 1)" font-size="28.2" text-anchor="middle">-0.1</text>
<text transform="translate(446 2267.4) scale(0.97 1)" font-size="28.2" text-anchor="middle">0</text>
<path d="M555.3 1812.6V2232.8M585 1812.6V2232.8M614.7 1812.6V2232.8M644.4 1812.6V2232.8M674 1812.6V2232.8M703.7 1812.6V2232.8M733.4 1812.6V2232.8M763.1 1812.6V2232.8M543.4 1854.8H775M543.4 1897.1H775M543.4 1939.3H775M543.4 1981.5H775M543.4 2023.8H775M543.4 2066H775M543.4 2108.2H775M543.4 2150.4H775M543.4 2192.7H775" stroke="#d2d2d2" stroke-width="1.7" stroke-linecap="round" stroke-dasharray="0 8.87" fill="none"/>
<polygon points="548.3,1813.1 552.7,1819.3 566.0,1823.7 590.4,1828.2 619.2,1839.2 639.2,1845.9 654.7,1850.3 690.1,1850.3 707.9,1828.2 679.1,1823.7 659.1,1819.3 661.3,1813.1" fill="#fab1b1" stroke="#fab1b1" stroke-width="4" stroke-linejoin="round" opacity="0.82"/>
<polygon points="550.5,1813.1 559.4,1819.3 601.5,1825.9 617.0,1839.2 628.1,1848.1 672.4,1854.8 672.4,1872.5 673.5,1896.9 699.0,1896.9 701.2,1872.5 705.7,1850.3 712.3,1834.8 712.3,1828.2 690.1,1823.7 650.2,1819.3 645.8,1813.1" fill="#b3b3f7" stroke="#b3b3f7" stroke-width="4" stroke-linejoin="round" opacity="0.82"/>
<circle cx="735.6" cy="1884.7" r="3.0" fill="#fab1b1" opacity="0.9"/>
<path d="M689.0 1908.0H696.8M689.0 1917.9H696.8M687.9 1928.3H695.7M686.8 1939.0H694.6M685.7 1950.1H693.5M684.6 1960.0H692.4M682.4 1971.1H690.1M681.3 1981.1H689.0M683.5 1992.2H691.2M680.2 2002.1H687.9M678.0 2013.2H685.7M675.7 2024.3H683.5M675.7 2044.8H683.5M673.5 2065.9H681.3M671.3 2086.9H679.1M666.9 2108.0H674.6M665.8 2129.0H673.5M663.5 2150.1H671.3M662.4 2171.1H670.2" stroke="#fab1b1" stroke-width="5" stroke-linecap="round" fill="none" opacity="0.88"/>
<path d="M673.5 1908.0H690.1M673.5 1917.9H690.1M672.4 1928.3H689.0M671.3 1939.0H687.9M670.2 1950.1H686.8M669.1 1960.0H685.7M668.0 1971.1H683.5M666.9 1981.1H682.4M665.8 1992.2H684.6M664.7 2002.1H681.3M663.5 2013.2H679.1M663.5 2024.3H676.8M660.2 2044.8H676.8M658.0 2065.9H674.6M655.8 2086.9H672.4M654.7 2108.0H668.0M653.6 2129.0H666.9M650.2 2150.1H664.7M648.0 2171.1H663.5" stroke="#b3b3f7" stroke-width="5" stroke-linecap="round" fill="none" opacity="0.88"/>
<polyline points="564.9,1813.1 579.3,1819.3 597.1,1823.7 617.0,1828.2 641.4,1834.8 665.8,1841.5 676.8,1845.9 680.2,1854.8 682.4,1872.5 681.3,1896.9 679.1,1939.0 675.7,1981.1 670.2,2024.3 663.5,2065.9 658.0,2108.0 651.4,2171.1" fill="none" stroke="#ff0000" stroke-width="1.8" stroke-linejoin="round" stroke-linecap="round"/>
<polyline points="644.7,1813.1 641.4,1819.3 650.2,1823.7 668.0,1828.2 690.1,1832.6 701.2,1837.0 703.4,1843.7 700.1,1854.8 697.9,1872.5 692.4,1896.9 690.1,1939.0 685.7,1981.1 679.1,2024.3 672.4,2065.9 666.9,2108.0 659.1,2171.1" fill="none" stroke="#ff0000" stroke-width="1.8" stroke-linejoin="round" stroke-linecap="round"/>
<polyline points="590.4,1813.1 599.3,1819.3 608.1,1825.9 619.2,1830.4 643.6,1837.0 663.5,1843.7 676.8,1850.3 679.1,1861.4 678.0,1896.9 672.4,1939.0 669.1,1981.1 666.9,2024.3 666.9,2065.9 663.5,2108.0 661.3,2171.1" fill="none" stroke="#2222b8" stroke-width="1.4" stroke-linejoin="round" stroke-linecap="round"/>
<polyline points="623.7,1813.1 630.3,1819.3 650.2,1825.9 672.4,1832.6 705.7,1837.0 703.4,1843.7 699.0,1854.8 697.9,1872.5 693.5,1896.9 690.1,1939.0 684.6,1981.1 679.1,2024.3 673.5,2065.9 670.2,2108.0 668.0,2171.1" fill="none" stroke="#2222b8" stroke-width="1.4" stroke-linejoin="round" stroke-linecap="round"/>
<polyline points="608.1,1813.1 617.0,1819.3 634.7,1828.2 659.1,1834.8 679.1,1839.2 690.1,1845.9 692.4,1854.8 692.4,1872.5 687.9,1896.9 682.4,1939.0 678.0,1981.1 673.5,2024.3 670.2,2065.9 666.9,2108.0 664.7,2150.1 663.5,2171.1" fill="none" stroke="#2222b8" stroke-width="2.6" stroke-linejoin="round" stroke-linecap="round"/>
<polyline points="599.3,1813.1 619.2,1816.0 623.7,1819.3 637.0,1828.2 650.2,1832.6 672.4,1837.0 685.7,1841.5 690.1,1850.3 691.2,1872.5 689.0,1896.9 686.8,1916.8 684.6,1939.0 682.4,1961.1 680.2,1981.1 678.0,2005.5 675.7,2024.3 671.3,2044.8 668.0,2065.9 664.7,2086.9 661.3,2108.0 659.1,2129.0 656.9,2150.1 655.8,2171.1" fill="none" stroke="#ff0000" stroke-width="3.0" stroke-linejoin="round" stroke-linecap="round"/>
<path d="M555.3 1812.6v4.2M555.3 2232.8v-4.2M585 1812.6v4.2M585 2232.8v-4.2M614.7 1812.6v4.2M614.7 2232.8v-4.2M644.4 1812.6v4.2M644.4 2232.8v-4.2M674 1812.6v4.2M674 2232.8v-4.2M703.7 1812.6v4.2M703.7 2232.8v-4.2M733.4 1812.6v4.2M733.4 2232.8v-4.2M763.1 1812.6v4.2M763.1 2232.8v-4.2M543.4 1854.8h4.2M775 1854.8h-4.2M543.4 1897.1h4.2M775 1897.1h-4.2M543.4 1939.3h4.2M775 1939.3h-4.2M543.4 1981.5h4.2M775 1981.5h-4.2M543.4 2023.8h4.2M775 2023.8h-4.2M543.4 2066h4.2M775 2066h-4.2M543.4 2108.2h4.2M775 2108.2h-4.2M543.4 2150.4h4.2M775 2150.4h-4.2M543.4 2192.7h4.2M775 2192.7h-4.2" stroke="#262626" stroke-width="1.3" fill="none"/>
<rect x="543.4" y="1812.6" width="231.6" height="420.2" stroke="#262626" stroke-width="1.3" fill="none"/>
<text transform="translate(555.3 2267.4) scale(0.97 1)" font-size="28.2" text-anchor="middle">350</text>
<text transform="translate(614.7 2267.4) scale(0.97 1)" font-size="28.2" text-anchor="middle">450</text>
<text transform="translate(674 2267.4) scale(0.97 1)" font-size="28.2" text-anchor="middle">550</text>
<text transform="translate(733.4 2267.4) scale(0.97 1)" font-size="28.2" text-anchor="middle">650</text>
<path d="M797.6 1812.6V2232.8M816.1 1812.6V2232.8M834.6 1812.6V2232.8M853.1 1812.6V2232.8M871.5 1812.6V2232.8M890 1812.6V2232.8M908.5 1812.6V2232.8M927 1812.6V2232.8M788.4 1854.8H931.6M788.4 1897.1H931.6M788.4 1939.3H931.6M788.4 1981.5H931.6M788.4 2023.8H931.6M788.4 2066H931.6M788.4 2108.2H931.6M788.4 2150.4H931.6M788.4 2192.7H931.6" stroke="#d2d2d2" stroke-width="1.7" stroke-linecap="round" stroke-dasharray="0 8.87" fill="none"/>
<polygon points="820.2,1812.3 820.2,1828.6 823.2,1851.2 826.2,1896.4 835.3,1896.4 835.3,1828.6 835.3,1812.3" fill="#c8c8c8" stroke="#c8c8c8" stroke-width="4" stroke-linejoin="round" opacity="0.82"/>
<polygon points="870.0,1812.3 871.5,1851.2 873.0,1896.4 880.5,1896.4 883.5,1851.2 883.5,1828.6 879.0,1812.3" fill="#c8c8c8" stroke="#c8c8c8" stroke-width="4" stroke-linejoin="round" opacity="0.82"/>
<polygon points="814.2,1812.3 820.2,1816.6 835.3,1824.1 835.3,1855.0 833.8,1881.4 834.5,1897.2 868.4,1897.2 871.5,1855.0 874.5,1840.7 889.5,1836.1 910.6,1830.1 930.2,1822.6 930.2,1812.3" fill="#b3b3f7" stroke="#b3b3f7" stroke-width="4" stroke-linejoin="round" opacity="0.82"/>
<circle cx="790.1" cy="1884.4" r="3.0" fill="#b3b3f7" opacity="0.9"/>
<path d="M833.0 1907.7H865.4M835.3 1918.3H865.4M834.5 1928.8H864.7M834.5 1939.4H866.2M835.3 1949.9H865.4M836.0 1960.5H864.7M836.0 1971.0H862.4M836.8 1992.4H862.4M836.8 2002.9H863.2M836.8 2013.9H863.9M836.0 2023.7H865.4M838.3 2044.8H866.2M840.6 2065.9H868.4M842.1 2087.0H870.7M844.3 2108.1H872.2M841.3 2086.6H870.7M843.6 2108.4H871.5M845.1 2128.8H871.5M846.6 2150.3H871.5M847.3 2171.0H877.5" stroke="#b3b3f7" stroke-width="5" stroke-linecap="round" fill="none" opacity="0.88"/>
<path d="M853.1 1812.6V2232.8" stroke="#262626" stroke-width="1.5" stroke-dasharray="5.8 3.5 5.5 3.5 1.5 15.6" stroke-dashoffset="-4" fill="none"/>
<polyline points="833.8,1812.3 833.8,1825.6 825.9,1833.1 822.9,1839.2 823.7,1851.2 826.1,1873.8 828.5,1897.2" fill="none" stroke="#000000" stroke-width="1.2" stroke-linejoin="round" stroke-linecap="round"/>
<polyline points="873.0,1812.3 873.0,1825.6 878.6,1833.1 883.1,1839.2 882.3,1851.2 879.9,1873.8 878.2,1897.2" fill="none" stroke="#000000" stroke-width="1.2" stroke-linejoin="round" stroke-linecap="round"/>
<polyline points="833.8,1812.3 833.8,1825.6 826.5,1833.1 823.8,1839.2 824.6,1851.2 826.5,1873.8 828.5,1897.2" fill="none" stroke="#000000" stroke-width="1.2" stroke-linejoin="round" stroke-linecap="round"/>
<polyline points="873.0,1812.3 873.0,1825.6 878.0,1833.1 882.2,1839.2 881.4,1851.2 879.4,1873.8 878.2,1897.2" fill="none" stroke="#000000" stroke-width="1.2" stroke-linejoin="round" stroke-linecap="round"/>
<polyline points="833.8,1812.3 833.8,1825.6 827.5,1833.1 825.6,1839.2 826.4,1851.2 827.4,1873.8 828.5,1897.2" fill="none" stroke="#000000" stroke-width="1.2" stroke-linejoin="round" stroke-linecap="round"/>
<polyline points="873.0,1812.3 873.0,1825.6 876.9,1833.1 880.4,1839.2 879.6,1851.2 878.5,1873.8 878.2,1897.2" fill="none" stroke="#000000" stroke-width="1.2" stroke-linejoin="round" stroke-linecap="round"/>
<polyline points="833.8,1812.3 833.8,1825.6 828.1,1833.1 826.5,1839.2 827.3,1851.2 827.9,1873.8 828.5,1897.2" fill="none" stroke="#000000" stroke-width="1.2" stroke-linejoin="round" stroke-linecap="round"/>
<polyline points="873.0,1812.3 873.0,1825.6 876.4,1833.1 879.4,1839.2 878.7,1851.2 878.1,1873.8 878.2,1897.2" fill="none" stroke="#000000" stroke-width="1.2" stroke-linejoin="round" stroke-linecap="round"/>
<polyline points="833.8,1812.3 833.8,1825.6 827.0,1833.1 824.7,1839.2 825.5,1851.2 827.0,1873.8 828.5,1897.2 830.0,1939.4 830.8,1976.0 830.8,2136.0 831.5,2171.0" fill="none" stroke="#000000" stroke-width="3.0" stroke-linejoin="round" stroke-linecap="round"/>
<polyline points="873.0,1812.3 873.0,1825.6 877.5,1833.1 881.3,1839.2 880.5,1851.2 879.0,1873.8 878.2,1897.2 876.7,1939.4 876.0,1976.0 874.8,2136.0 874.8,2171.0" fill="none" stroke="#000000" stroke-width="3.0" stroke-linejoin="round" stroke-linecap="round"/>
<polyline points="824.7,1812.3 827.8,1818.1 833.8,1828.6 836.8,1833.1 841.3,1837.7 845.8,1843.7 845.8,1855.0 845.1,1873.8 843.6,1897.2 842.1,1939.4 841.3,1976.0 842.1,2023.7 845.1,2065.9 848.9,2108.1 850.4,2136.0 851.1,2150.3 851.9,2171.0" fill="none" stroke="#2222b8" stroke-width="1.4" stroke-linejoin="round" stroke-linecap="round"/>
<polyline points="910.6,1812.3 904.6,1815.0 908.4,1821.1 870.0,1824.1 865.4,1827.1 870.0,1830.1 868.4,1836.1 865.4,1843.7 863.2,1855.0 860.9,1873.8 859.4,1897.2 858.6,1939.4 857.9,1976.0 858.6,2003.7 861.7,2014.2 862.4,2023.7 865.4,2065.9 869.2,2108.1 871.5,2136.0 872.2,2150.3 873.7,2171.0" fill="none" stroke="#2222b8" stroke-width="1.4" stroke-linejoin="round" stroke-linecap="round"/>
<polyline points="838.3,1815.0 862.4,1815.0 841.3,1818.1 844.3,1828.6 848.9,1833.1 854.9,1836.1 856.4,1843.7 853.4,1855.0 851.9,1873.8 851.1,1897.2 850.4,1919.0 849.6,1939.4 849.6,1976.0 850.4,2003.7 852.6,2023.7 854.1,2044.4 856.4,2065.9 858.6,2086.6 860.9,2108.1 862.4,2136.0 863.9,2150.3 865.1,2171.0" fill="none" stroke="#2222b8" stroke-width="2.6" stroke-linejoin="round" stroke-linecap="round"/>
<path d="M797.6 1812.6v4.2M797.6 2232.8v-4.2M816.1 1812.6v4.2M816.1 2232.8v-4.2M834.6 1812.6v4.2M834.6 2232.8v-4.2M853.1 1812.6v4.2M853.1 2232.8v-4.2M871.5 1812.6v4.2M871.5 2232.8v-4.2M890 1812.6v4.2M890 2232.8v-4.2M908.5 1812.6v4.2M908.5 2232.8v-4.2M927 1812.6v4.2M927 2232.8v-4.2M788.4 1854.8h4.2M931.6 1854.8h-4.2M788.4 1897.1h4.2M931.6 1897.1h-4.2M788.4 1939.3h4.2M931.6 1939.3h-4.2M788.4 1981.5h4.2M931.6 1981.5h-4.2M788.4 2023.8h4.2M931.6 2023.8h-4.2M788.4 2066h4.2M931.6 2066h-4.2M788.4 2108.2h4.2M931.6 2108.2h-4.2M788.4 2150.4h4.2M931.6 2150.4h-4.2M788.4 2192.7h4.2M931.6 2192.7h-4.2" stroke="#262626" stroke-width="1.3" fill="none"/>
<rect x="788.4" y="1812.6" width="143.2" height="420.2" stroke="#262626" stroke-width="1.3" fill="none"/>
<text transform="translate(816.1 2267.4) scale(0.97 1)" font-size="28.2" text-anchor="middle">-40</text>
<text transform="translate(853.1 2267.4) scale(0.97 1)" font-size="28.2" text-anchor="middle">0</text>
<text transform="translate(890 2267.4) scale(0.97 1)" font-size="28.2" text-anchor="middle">40</text>
<text transform="translate(927 2267.4) scale(0.97 1)" font-size="28.2" text-anchor="middle">80</text>
<path d="M980.2 1812.6V2232.8M1004.6 1812.6V2232.8M1029 1812.6V2232.8M1053.4 1812.6V2232.8M1077.8 1812.6V2232.8M1102.2 1812.6V2232.8M970.4 1854.8H1112M970.4 1897.1H1112M970.4 1939.3H1112M970.4 1981.5H1112M970.4 2023.8H1112M970.4 2066H1112M970.4 2108.2H1112M970.4 2150.4H1112M970.4 2192.7H1112" stroke="#d2d2d2" stroke-width="1.7" stroke-linecap="round" stroke-dasharray="0 8.87" fill="none"/>
<polygon points="970.8,1812.5 971.6,1819.0 993.2,1820.5 1007.7,1821.9 1027.9,1827.7 1038.0,1832.0 1053.9,1837.8 1064.0,1846.5 1074.2,1852.2 1075.9,1863.8 1076.8,1969.0 1080.2,1969.0 1080.7,1892.7 1081.1,1856.6 1079.9,1842.1 1075.6,1827.7 1069.8,1820.5 1064.0,1812.5" fill="#fab1b1" stroke="#fab1b1" stroke-width="4" stroke-linejoin="round" opacity="0.82"/>
<polyline points="994.7,1819.0 978.8,1817.6" fill="none" stroke="#fab1b1" stroke-width="6" stroke-linecap="round" stroke-dasharray="0.1 20" opacity="0.9"/>
<path d="M1077.8 1812.6V2232.8" stroke="#262626" stroke-width="1.5" stroke-dasharray="5.8 3.5 5.5 3.5 1.5 15.6" stroke-dashoffset="-4" fill="none"/>
<polyline points="1014.9,1812.5 1023.6,1817.6 1036.6,1824.8 1051.0,1832.0 1064.0,1837.8 1072.7,1843.6 1075.6,1849.4 1077.8,1863.8" fill="none" stroke="#ff0000" stroke-width="1.8" stroke-linejoin="round" stroke-linecap="round"/>
<polyline points="1056.8,1812.5 1059.7,1817.6 1062.6,1824.8 1069.8,1830.6 1075.6,1836.3 1078.5,1842.1 1079.2,1849.4" fill="none" stroke="#ff0000" stroke-width="1.8" stroke-linejoin="round" stroke-linecap="round"/>
<polyline points="1036.6,1812.5 1040.9,1814.7 1046.7,1817.6 1051.0,1820.5 1058.3,1827.7 1068.4,1834.9 1075.6,1842.1 1077.8,1849.4 1078.5,1863.8 1078.5,1897.0 1079.2,1939.2 1079.2,1969.0 1078.2,2023.6 1077.8,2123.0 1077.8,2150.4 1076.8,2152.1 1077.1,2172.4" fill="none" stroke="#ff0000" stroke-width="3.0" stroke-linejoin="round" stroke-linecap="round"/>
<path d="M980.2 1812.6v4.2M980.2 2232.8v-4.2M1004.6 1812.6v4.2M1004.6 2232.8v-4.2M1029 1812.6v4.2M1029 2232.8v-4.2M1053.4 1812.6v4.2M1053.4 2232.8v-4.2M1077.8 1812.6v4.2M1077.8 2232.8v-4.2M1102.2 1812.6v4.2M1102.2 2232.8v-4.2M970.4 1854.8h4.2M1112 1854.8h-4.2M970.4 1897.1h4.2M1112 1897.1h-4.2M970.4 1939.3h4.2M1112 1939.3h-4.2M970.4 1981.5h4.2M1112 1981.5h-4.2M970.4 2023.8h4.2M1112 2023.8h-4.2M970.4 2066h4.2M1112 2066h-4.2M970.4 2108.2h4.2M1112 2108.2h-4.2M970.4 2150.4h4.2M1112 2150.4h-4.2M970.4 2192.7h4.2M1112 2192.7h-4.2" stroke="#262626" stroke-width="1.3" fill="none"/>
<rect x="970.4" y="1812.6" width="141.6" height="420.2" stroke="#262626" stroke-width="1.3" fill="none"/>
<text transform="translate(980.2 2267.4) scale(0.97 1)" font-size="28.2" text-anchor="middle">-1</text>
<text transform="translate(1029 2267.4) scale(0.97 1)" font-size="28.2" text-anchor="middle">-0.5</text>
<text transform="translate(1077.8 2267.4) scale(0.97 1)" font-size="28.2" text-anchor="middle">0</text>
<text transform="translate(105.3 1821.9) scale(0.97 1)" font-size="28.2" text-anchor="end">0</text>
<text transform="translate(105.3 1864.1) scale(0.97 1)" font-size="28.2" text-anchor="end">200</text>
<text transform="translate(105.3 1906.4) scale(0.97 1)" font-size="28.2" text-anchor="end">400</text>
<text transform="translate(105.3 1948.6) scale(0.97 1)" font-size="28.2" text-anchor="end">600</text>
<text transform="translate(105.3 1990.8) scale(0.97 1)" font-size="28.2" text-anchor="end">800</text>
<text transform="translate(105.3 2033.1) scale(0.97 1)" font-size="28.2" text-anchor="end">1000</text>
<text transform="translate(105.3 2075.3) scale(0.97 1)" font-size="28.2" text-anchor="end">1200</text>
<text transform="translate(105.3 2117.5) scale(0.97 1)" font-size="28.2" text-anchor="end">1400</text>
<text transform="translate(105.3 2159.7) scale(0.97 1)" font-size="28.2" text-anchor="end">1600</text>
<text transform="translate(105.3 2202) scale(0.97 1)" font-size="28.2" text-anchor="end">1800</text>
<text transform="translate(25.5 2022.7) rotate(-90)" font-size="28.5" text-anchor="middle">pressure / dbar</text>
<text x="232.4" y="2299.1" font-size="28.5" text-anchor="middle">pH<tspan font-size="21.5" dy="12.8">in-situ</tspan></text>
<text x="432.6" y="2299.1" font-size="28.5" text-anchor="middle">ΔpH<tspan font-size="21.5" dy="12.8">in-situ</tspan></text>
<text x="659.2" y="2299.1" font-size="28.5" text-anchor="middle"><tspan font-style="italic">p</tspan>CO<tspan font-size="21.5" dy="12.8">2</tspan><tspan dy="-13"> / </tspan><tspan font-style="italic">μ</tspan>atm</text>
<text x="859" y="2299.1" font-size="28.5" letter-spacing="0.9" text-anchor="middle">Δ<tspan font-style="italic">p</tspan>CO<tspan font-size="21.5" dy="12.8">2</tspan><tspan dy="-13"> / </tspan><tspan font-style="italic">μ</tspan>atm</text>
<text x="1036.7" y="2299.1" font-size="28.5" text-anchor="middle">S - S<tspan font-size="21.5" dy="12.8">1500 dbar</tspan></text>
<path d="M127 2185.8h66.5" stroke="#ff0000" stroke-width="2.6"/>
<path d="M127 2213.5h66.5" stroke="#2424b4" stroke-width="2"/>
<text x="200.5" y="2193.8" font-size="26">pH Sensor</text>
<text x="200.5" y="2221.3" font-size="26">CONTENT</text>
<path d="M553.9 2185.8h66.5" stroke="#ff0000" stroke-width="2.6"/>
<path d="M553.9 2213.5h66.5" stroke="#2424b4" stroke-width="2"/>
<text x="627.4" y="2193.8" font-size="26">Williams 2017</text>
<text x="627.4" y="2221.3" font-size="26">CONTENT</text>
<path d="M374.1 2188.3h66.5" stroke="#2424b4" stroke-width="2"/>
<path d="M374.1 2215.5h66.5" stroke="#000" stroke-width="2.6"/>
<path d="M449.5 2193.9L457.3 2178.9L465.2 2193.9Z" fill="none" stroke="#000" stroke-width="1.7" stroke-linejoin="miter"/>
<text x="447.6" y="2221.3" font-size="26" style="font-family:Liberation Serif,serif;font-style:italic">σ</text>
<path d="M800.9 2188.3h66.5" stroke="#2424b4" stroke-width="2"/>
<path d="M800.9 2215.5h66.5" stroke="#000" stroke-width="2.6"/>
<path d="M876.3 2193.9L884.1 2178.9L892 2193.9Z" fill="none" stroke="#000" stroke-width="1.7" stroke-linejoin="miter"/>
<text x="874.4" y="2221.3" font-size="26" style="font-family:Liberation Serif,serif;font-style:italic">σ</text>
</svg></body></html>
